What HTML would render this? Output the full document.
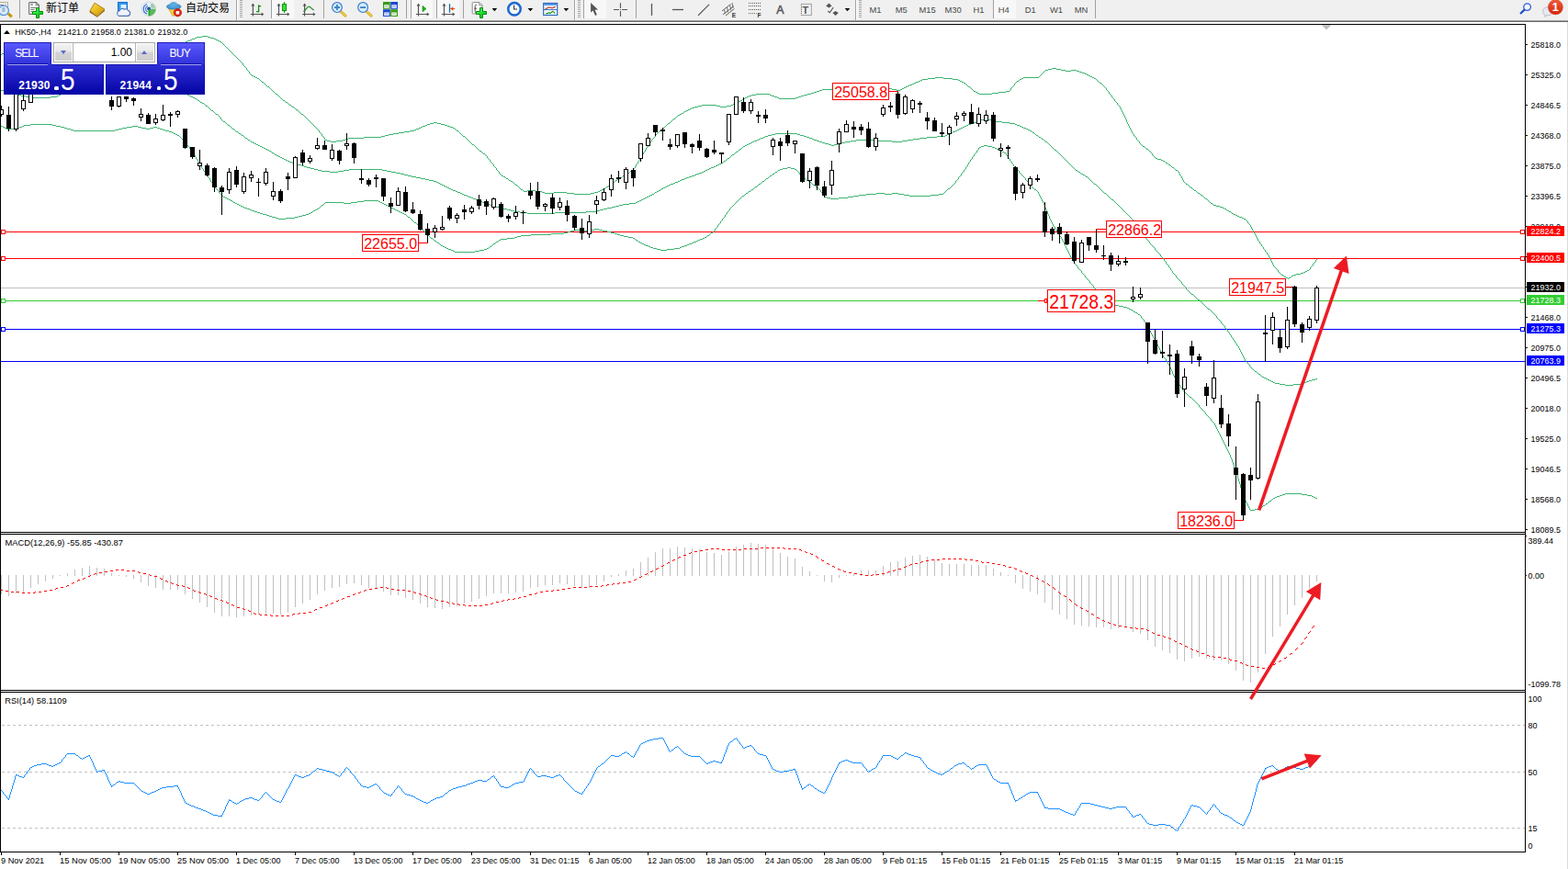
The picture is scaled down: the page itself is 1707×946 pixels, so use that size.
<!DOCTYPE html>
<html><head><meta charset="utf-8"><title>HK50 H4</title>
<style>
html,body{margin:0;padding:0;background:#fff;}
body{width:1707px;height:946px;overflow:hidden;position:relative;font-family:"Liberation Sans",sans-serif;}
#tb{position:absolute;left:0;top:0;width:1707px;height:22px;background:#f0f0f0;}
#tbl1{position:absolute;left:0;top:22px;width:1707px;height:1px;background:#a0a0a0;}
#tbl2{position:absolute;left:0;top:23px;width:1707px;height:1px;background:#696969;}
#rb{position:absolute;left:1706px;top:24px;width:1px;height:922px;background:#dadada;}
svg{position:absolute;left:0;top:0;}
#panel{position:absolute;left:0;top:0;}
.bt{position:absolute;color:#fff;}
</style></head><body>
<div id="tb"></div><div id="tbl1"></div><div id="tbl2"></div><div id="rb"></div>
<svg width="1707" height="946" viewBox="0 0 1707 946">
<g shape-rendering="crispEdges">
<rect x="1" y="313" width="1659" height="1" fill="#c0c0c0"/>
<rect x="1" y="252" width="1659" height="1" fill="#ff0000"/>
<rect x="1" y="281" width="1659" height="1" fill="#ff0000"/>
<rect x="1" y="327" width="1659" height="1" fill="#32cd32"/>
<rect x="1" y="358" width="1659" height="1" fill="#0000ff"/>
<rect x="1" y="393" width="1659" height="1" fill="#0000ff"/>
<rect x="1130" y="327" width="7" height="1" fill="#ff0000"/>
<path d="M220 39.5h6M214 40.5h6M226 40.5h3M212 41.5h2M229 41.5h4M209 42.5h3M233 42.5h2M207 43.5h2M235 43.5h2M204 44.5h3M237 44.5h2M202 45.5h2M239 45.5h2M200 46.5h2M241 46.5h1M194 47.5h6M242 47.5h1M185 48.5h9M243 48.5h1M165 49.5h20M244 49.5h1M135 50.5h30M245 50.5h1M110 51.5h25M246 51.5h1M90 52.5h20M247 52.5h1M70 53.5h20M248 53.5h1M50 54.5h20M249 54.5h1M34 55.5h16M250 55.5h1M22 56.5h12M251 56.5h1M10 57.5h12M252 57.5h1M2 58.5h8M253 58.5h1M0 59.5h2M254 59.5h1M255 60.5h1M256 61.5h1M257 62.5h1M258 63.5h1M259 64.5h1M260 65.5h1M261 66.5h1M262 67.5h1M263 68.5h1M264 69.5h1M264 70.5h1M265 71.5h1M266 72.5h1M267 73.5h1M268 74.5h1M268 75.5h1M269 76.5h1M270 77.5h1M271 78.5h1M271 79.5h1M272 80.5h1M273 81.5h1M274 82.5h2M276 83.5h2M278 84.5h2M280 85.5h2M282 86.5h1M283 87.5h1M284 88.5h1M285 89.5h2M287 90.5h1M288 91.5h1M289 92.5h1M290 93.5h1M291 94.5h2M293 95.5h1M294 96.5h1M295 97.5h1M895 97.5h12M296 98.5h1M892 98.5h3M297 99.5h1M889 99.5h3M298 100.5h1M886 100.5h3M299 101.5h1M883 101.5h3M300 102.5h2M823 102.5h15M879 102.5h4M302 103.5h1M818 103.5h5M838 103.5h2M875 103.5h4M303 104.5h1M815 104.5h3M840 104.5h3M872 104.5h3M304 105.5h1M813 105.5h2M843 105.5h3M869 105.5h3M305 106.5h1M811 106.5h2M846 106.5h2M866 106.5h3M306 107.5h1M810 107.5h1M848 107.5h18M307 108.5h1M808 108.5h2M308 109.5h2M806 109.5h2M310 110.5h1M804 110.5h2M311 111.5h2M802 111.5h2M313 112.5h1M800 112.5h2M314 113.5h1M798 113.5h2M315 114.5h2M764 114.5h16M796 114.5h2M317 115.5h1M760 115.5h4M780 115.5h4M791 115.5h5M318 116.5h2M756 116.5h4M784 116.5h7M320 117.5h1M753 117.5h3M321 118.5h1M751 118.5h2M322 119.5h2M749 119.5h2M324 120.5h1M747 120.5h2M325 121.5h1M745 121.5h2M326 122.5h1M744 122.5h1M327 123.5h1M742 123.5h2M328 124.5h2M740 124.5h2M330 125.5h1M738 125.5h2M331 126.5h1M737 126.5h1M332 127.5h1M736 127.5h1M333 128.5h1M735 128.5h1M334 129.5h1M733 129.5h2M335 130.5h1M732 130.5h1M336 131.5h1M731 131.5h1M337 132.5h1M730 132.5h1M338 133.5h1M472 133.5h4M729 133.5h1M339 134.5h1M468 134.5h4M476 134.5h4M727 134.5h2M340 135.5h1M465 135.5h3M480 135.5h4M726 135.5h1M341 136.5h1M463 136.5h2M484 136.5h3M725 136.5h1M342 137.5h1M460 137.5h3M487 137.5h3M724 137.5h1M343 138.5h1M458 138.5h2M490 138.5h3M723 138.5h1M344 139.5h1M456 139.5h2M493 139.5h2M722 139.5h1M345 140.5h1M453 140.5h3M495 140.5h1M721 140.5h1M346 141.5h1M451 141.5h2M496 141.5h1M719 141.5h2M347 142.5h1M446 142.5h5M497 142.5h2M718 142.5h1M347 143.5h1M440 143.5h6M499 143.5h1M717 143.5h1M348 144.5h1M434 144.5h6M500 144.5h1M716 144.5h1M349 145.5h1M428 145.5h6M501 145.5h1M715 145.5h1M350 146.5h1M423 146.5h5M502 146.5h1M714 146.5h1M350 147.5h1M419 147.5h4M503 147.5h1M713 147.5h1M351 148.5h1M415 148.5h4M504 148.5h2M713 148.5h1M352 149.5h1M396 149.5h19M506 149.5h1M712 149.5h1M353 150.5h1M379 150.5h17M507 150.5h1M711 150.5h1M353 151.5h1M376 151.5h3M508 151.5h1M710 151.5h1M354 152.5h2M373 152.5h3M509 152.5h1M709 152.5h1M356 153.5h4M366 153.5h7M510 153.5h1M709 153.5h1M360 154.5h6M511 154.5h1M708 154.5h1M512 155.5h1M707 155.5h1M513 156.5h1M706 156.5h1M514 157.5h2M706 157.5h1M516 158.5h1M705 158.5h1M517 159.5h1M705 159.5h1M518 160.5h1M704 160.5h1M519 161.5h1M703 161.5h1M520 162.5h1M703 162.5h1M521 163.5h1M702 163.5h1M522 164.5h2M702 164.5h1M524 165.5h1M701 165.5h1M525 166.5h1M700 166.5h1M526 167.5h2M700 167.5h1M528 168.5h1M699 168.5h1M529 169.5h1M699 169.5h1M530 170.5h1M698 170.5h1M530 171.5h1M697 171.5h1M531 172.5h1M697 172.5h1M532 173.5h1M696 173.5h1M533 174.5h1M696 174.5h1M533 175.5h1M695 175.5h1M534 176.5h1M694 176.5h1M535 177.5h1M694 177.5h1M536 178.5h1M693 178.5h1M537 179.5h1M692 179.5h1M537 180.5h1M692 180.5h1M538 181.5h1M691 181.5h1M539 182.5h1M691 182.5h1M540 183.5h1M690 183.5h1M540 184.5h1M689 184.5h1M541 185.5h1M688 185.5h1M542 186.5h1M686 186.5h2M543 187.5h1M685 187.5h1M543 188.5h1M683 188.5h2M544 189.5h1M682 189.5h1M545 190.5h1M680 190.5h2M546 191.5h2M678 191.5h2M548 192.5h2M677 192.5h1M550 193.5h1M675 193.5h2M551 194.5h2M674 194.5h1M553 195.5h1M672 195.5h2M554 196.5h2M670 196.5h2M556 197.5h2M669 197.5h1M558 198.5h1M667 198.5h2M559 199.5h1M666 199.5h1M560 200.5h1M664 200.5h2M561 201.5h2M663 201.5h1M563 202.5h1M662 202.5h1M564 203.5h1M660 203.5h2M565 204.5h1M659 204.5h1M566 205.5h1M657 205.5h2M567 206.5h2M655 206.5h2M569 207.5h1M574 207.5h9M653 207.5h2M570 208.5h4M583 208.5h7M651 208.5h2M590 209.5h3M603 209.5h14M647 209.5h4M593 210.5h10M617 210.5h8M643 210.5h4M625 211.5h18" fill="none" stroke="#3cb371" stroke-width="1"/>
<path d="M1145 74.5h5M1141 75.5h4M1150 75.5h5M1138 76.5h3M1155 76.5h5M1166 76.5h6M1137 77.5h1M1160 77.5h6M1172 77.5h3M1136 78.5h1M1175 78.5h3M1135 79.5h1M1178 79.5h3M1134 80.5h1M1181 80.5h2M1133 81.5h1M1183 81.5h2M1132 82.5h1M1185 82.5h2M1131 83.5h1M1187 83.5h2M1018 84.5h9M1114 84.5h17M1189 84.5h2M1010 85.5h8M1027 85.5h10M1112 85.5h2M1191 85.5h2M1004 86.5h6M1037 86.5h6M1110 86.5h2M1193 86.5h1M1002 87.5h2M1043 87.5h2M1109 87.5h1M1194 87.5h1M1000 88.5h2M1045 88.5h2M1107 88.5h2M1195 88.5h1M997 89.5h3M1047 89.5h2M1106 89.5h1M1196 89.5h1M995 90.5h2M1049 90.5h2M1105 90.5h1M1197 90.5h2M993 91.5h2M1051 91.5h1M1104 91.5h1M1199 91.5h1M990 92.5h3M1052 92.5h1M1104 92.5h1M1200 92.5h1M988 93.5h2M1053 93.5h1M1103 93.5h1M1201 93.5h1M986 94.5h2M1054 94.5h2M1102 94.5h1M1202 94.5h1M984 95.5h2M1056 95.5h1M1101 95.5h1M1203 95.5h1M968 96.5h3M982 96.5h2M1057 96.5h1M1100 96.5h1M1204 96.5h1M971 97.5h5M980 97.5h2M1058 97.5h1M1100 97.5h1M1204 97.5h1M976 98.5h4M1059 98.5h1M1099 98.5h1M1205 98.5h1M1060 99.5h2M1095 99.5h4M1206 99.5h1M1062 100.5h2M1087 100.5h8M1207 100.5h1M1064 101.5h2M1080 101.5h7M1207 101.5h1M1066 102.5h14M1208 102.5h1M1209 103.5h1M1210 104.5h1M1210 105.5h1M1211 106.5h1M1212 107.5h1M1213 108.5h1M1213 109.5h1M1214 110.5h1M1215 111.5h1M1216 112.5h1M1216 113.5h1M1217 114.5h1M1218 115.5h1M1219 116.5h1M1219 117.5h1M1220 118.5h1M1220 119.5h1M1221 120.5h1M1221 121.5h1M1222 122.5h1M1222 123.5h1M1223 124.5h1M1223 125.5h1M1224 126.5h1M1224 127.5h1M1225 128.5h1M1225 129.5h1M1226 130.5h1M1226 131.5h1M1226 132.5h1M1227 133.5h1M1227 134.5h1M1228 135.5h1M1228 136.5h1M1229 137.5h1M1229 138.5h1M1230 139.5h1M1230 140.5h1M1231 141.5h1M1231 142.5h1M1232 143.5h1M1232 144.5h1M1233 145.5h1M1234 146.5h1M1234 147.5h1M1235 148.5h1M1236 149.5h1M1237 150.5h1M1237 151.5h1M1238 152.5h1M1239 153.5h1M1240 154.5h1M1240 155.5h1M1241 156.5h1M1242 157.5h1M1243 158.5h1M1244 159.5h2M1246 160.5h1M1247 161.5h1M1248 162.5h2M1250 163.5h1M1251 164.5h1M1252 165.5h1M1253 166.5h1M1254 167.5h1M1254 168.5h1M1255 169.5h1M1256 170.5h1M1257 171.5h1M1258 172.5h2M1260 173.5h4M1264 174.5h2M1266 175.5h2M1268 176.5h1M1269 177.5h2M1271 178.5h1M1272 179.5h2M1274 180.5h1M1275 181.5h1M1276 182.5h2M1278 183.5h1M1279 184.5h1M1280 185.5h2M1282 186.5h1M1283 187.5h1M1283 188.5h1M1284 189.5h1M1284 190.5h1M1285 191.5h1M1286 192.5h1M1286 193.5h1M1287 194.5h1M1287 195.5h1M1288 196.5h1M1288 197.5h1M1289 198.5h1M1290 199.5h1M1291 200.5h2M1293 201.5h1M1294 202.5h1M1295 203.5h1M1296 204.5h2M1298 205.5h1M1299 206.5h1M1300 207.5h2M1302 208.5h1M1303 209.5h1M1304 210.5h2M1306 211.5h1M1307 212.5h2M1309 213.5h1M1310 214.5h1M1311 215.5h1M1312 216.5h2M1314 217.5h1M1315 218.5h1M1316 219.5h1M1317 220.5h1M1318 221.5h2M1320 222.5h1M1321 223.5h3M1324 224.5h4M1328 225.5h3M1331 226.5h2M1333 227.5h2M1335 228.5h1M1336 229.5h2M1338 230.5h2M1340 231.5h1M1341 232.5h2M1343 233.5h2M1345 234.5h2M1347 235.5h2M1349 236.5h3M1352 237.5h2M1354 238.5h2M1356 239.5h1M1357 240.5h1M1358 241.5h1M1358 242.5h1M1359 243.5h1M1360 244.5h1M1361 245.5h1M1361 246.5h1M1362 247.5h1M1362 248.5h1M1363 249.5h1M1363 250.5h1M1364 251.5h1M1364 252.5h1M1365 253.5h1M1366 254.5h1M1366 255.5h1M1367 256.5h1M1367 257.5h1M1368 258.5h1M1368 259.5h1M1369 260.5h1M1369 261.5h1M1370 262.5h1M1371 263.5h1M1371 264.5h1M1372 265.5h1M1373 266.5h1M1373 267.5h1M1374 268.5h1M1375 269.5h1M1375 270.5h1M1376 271.5h1M1377 272.5h1M1377 273.5h1M1378 274.5h1M1379 275.5h1M1379 276.5h1M1380 277.5h1M1381 278.5h1M1381 279.5h1M1382 280.5h1M1382 281.5h1M1383 282.5h1M1433 282.5h1M1383 283.5h1M1432 283.5h1M1384 284.5h1M1432 284.5h1M1384 285.5h1M1431 285.5h1M1385 286.5h1M1430 286.5h1M1385 287.5h1M1429 287.5h1M1386 288.5h1M1429 288.5h1M1386 289.5h1M1428 289.5h1M1387 290.5h1M1427 290.5h1M1388 291.5h1M1426 291.5h1M1389 292.5h1M1426 292.5h1M1390 293.5h1M1425 293.5h1M1391 294.5h1M1423 294.5h2M1391 295.5h1M1421 295.5h2M1392 296.5h1M1419 296.5h2M1393 297.5h1M1416 297.5h3M1394 298.5h1M1411 298.5h5M1395 299.5h2M1408 299.5h3M1397 300.5h1M1406 300.5h2M1398 301.5h2M1405 301.5h1M1400 302.5h2M1403 302.5h2M1402 303.5h1" fill="none" stroke="#3cb371" stroke-width="1"/>
<path d="M133 95.5h14M118 96.5h15M147 96.5h14M103 97.5h15M161 97.5h14M0 98.5h5M88 98.5h15M175 98.5h14M5 99.5h4M78 99.5h10M189 99.5h9M9 100.5h3M73 100.5h5M198 100.5h2M12 101.5h3M69 101.5h4M200 101.5h2M15 102.5h4M66 102.5h3M202 102.5h2M19 103.5h4M64 103.5h2M204 103.5h2M23 104.5h5M62 104.5h2M206 104.5h2M28 105.5h6M55 105.5h7M208 105.5h2M34 106.5h21M210 106.5h2M212 107.5h2M214 108.5h1M215 109.5h2M217 110.5h1M218 111.5h2M220 112.5h2M222 113.5h1M223 114.5h1M224 115.5h2M226 116.5h1M227 117.5h1M228 118.5h1M229 119.5h1M230 120.5h2M232 121.5h1M233 122.5h1M234 123.5h1M235 124.5h2M237 125.5h1M238 126.5h1M239 127.5h1M240 128.5h1M240 129.5h1M1071 129.5h4M241 130.5h1M1068 130.5h3M1075 130.5h4M242 131.5h1M1065 131.5h3M1079 131.5h5M243 132.5h2M1063 132.5h2M1084 132.5h7M245 133.5h1M1060 133.5h3M1091 133.5h8M246 134.5h1M1057 134.5h3M1099 134.5h6M247 135.5h1M1054 135.5h3M1105 135.5h2M248 136.5h2M1052 136.5h2M1107 136.5h3M250 137.5h1M1050 137.5h2M1110 137.5h2M251 138.5h1M1048 138.5h2M1112 138.5h2M252 139.5h1M1046 139.5h2M1114 139.5h3M253 140.5h2M1044 140.5h2M1117 140.5h2M255 141.5h1M1042 141.5h2M1119 141.5h2M256 142.5h1M1040 142.5h2M1121 142.5h2M257 143.5h2M1037 143.5h3M1123 143.5h1M259 144.5h1M1035 144.5h2M1124 144.5h2M260 145.5h2M844 145.5h24M1033 145.5h2M1126 145.5h1M262 146.5h1M840 146.5h4M868 146.5h3M1031 146.5h2M1127 146.5h1M263 147.5h2M836 147.5h4M871 147.5h4M1029 147.5h2M1128 147.5h2M265 148.5h1M833 148.5h3M875 148.5h3M1020 148.5h9M1130 148.5h1M266 149.5h1M831 149.5h2M878 149.5h3M1009 149.5h11M1131 149.5h2M267 150.5h2M828 150.5h3M881 150.5h3M1001 150.5h8M1133 150.5h1M269 151.5h1M826 151.5h2M884 151.5h2M994 151.5h7M1134 151.5h2M270 152.5h2M824 152.5h2M886 152.5h3M932 152.5h22M988 152.5h6M1136 152.5h1M272 153.5h1M821 153.5h3M889 153.5h3M926 153.5h6M954 153.5h17M982 153.5h6M1137 153.5h1M273 154.5h2M819 154.5h2M892 154.5h3M920 154.5h6M971 154.5h11M1138 154.5h2M275 155.5h2M817 155.5h2M895 155.5h3M916 155.5h4M1140 155.5h1M277 156.5h2M815 156.5h2M898 156.5h4M912 156.5h4M1141 156.5h1M279 157.5h2M813 157.5h2M902 157.5h3M908 157.5h4M1142 157.5h1M281 158.5h2M811 158.5h2M905 158.5h3M1143 158.5h1M283 159.5h2M809 159.5h2M1144 159.5h1M285 160.5h2M808 160.5h1M1145 160.5h1M287 161.5h2M807 161.5h1M1146 161.5h1M289 162.5h2M805 162.5h2M1147 162.5h1M291 163.5h2M804 163.5h1M1148 163.5h2M293 164.5h2M803 164.5h1M1150 164.5h1M295 165.5h1M801 165.5h2M1151 165.5h1M296 166.5h2M800 166.5h1M1152 166.5h1M298 167.5h1M799 167.5h1M1153 167.5h1M299 168.5h2M797 168.5h2M1154 168.5h1M301 169.5h2M796 169.5h1M1155 169.5h1M303 170.5h2M795 170.5h1M1156 170.5h1M305 171.5h2M794 171.5h1M1157 171.5h1M307 172.5h2M792 172.5h2M1158 172.5h1M309 173.5h2M791 173.5h1M1159 173.5h1M311 174.5h2M790 174.5h1M1160 174.5h1M313 175.5h2M788 175.5h2M1161 175.5h1M315 176.5h3M787 176.5h1M1162 176.5h1M318 177.5h3M785 177.5h2M1163 177.5h1M321 178.5h3M783 178.5h2M1164 178.5h1M324 179.5h4M781 179.5h2M1165 179.5h1M328 180.5h3M779 180.5h2M1166 180.5h1M331 181.5h3M777 181.5h2M1167 181.5h1M334 182.5h4M774 182.5h3M1168 182.5h1M338 183.5h4M772 183.5h2M1169 183.5h1M342 184.5h4M380 184.5h36M770 184.5h2M1170 184.5h1M346 185.5h4M374 185.5h6M416 185.5h5M768 185.5h2M1171 185.5h2M350 186.5h9M368 186.5h6M421 186.5h5M766 186.5h2M1173 186.5h1M359 187.5h9M426 187.5h5M764 187.5h2M1174 187.5h2M431 188.5h5M761 188.5h3M1176 188.5h1M436 189.5h4M758 189.5h3M1177 189.5h2M440 190.5h4M756 190.5h2M1179 190.5h2M444 191.5h4M753 191.5h3M1181 191.5h1M448 192.5h5M750 192.5h3M1182 192.5h2M453 193.5h5M747 193.5h3M1184 193.5h1M458 194.5h5M745 194.5h2M1185 194.5h1M463 195.5h4M742 195.5h3M1186 195.5h1M467 196.5h5M740 196.5h2M1187 196.5h1M472 197.5h3M738 197.5h2M1188 197.5h1M475 198.5h2M735 198.5h3M1189 198.5h1M477 199.5h2M733 199.5h2M1190 199.5h1M479 200.5h2M730 200.5h3M1191 200.5h2M481 201.5h2M728 201.5h2M1193 201.5h1M483 202.5h2M726 202.5h2M1194 202.5h1M485 203.5h2M724 203.5h2M1195 203.5h1M487 204.5h2M722 204.5h2M1196 204.5h1M489 205.5h2M720 205.5h2M1197 205.5h1M491 206.5h2M719 206.5h1M1198 206.5h1M493 207.5h3M717 207.5h2M1199 207.5h1M496 208.5h2M715 208.5h2M1200 208.5h1M498 209.5h3M713 209.5h2M1201 209.5h1M501 210.5h2M712 210.5h1M1202 210.5h2M503 211.5h2M710 211.5h2M1204 211.5h1M505 212.5h3M708 212.5h2M1205 212.5h1M508 213.5h2M706 213.5h2M1206 213.5h1M510 214.5h3M704 214.5h2M1207 214.5h1M513 215.5h2M702 215.5h2M1208 215.5h1M515 216.5h3M700 216.5h2M1209 216.5h1M518 217.5h2M698 217.5h2M1210 217.5h2M520 218.5h2M696 218.5h2M1212 218.5h1M522 219.5h3M694 219.5h2M1213 219.5h1M525 220.5h2M692 220.5h2M1214 220.5h1M527 221.5h3M685 221.5h7M1215 221.5h1M530 222.5h4M678 222.5h7M1216 222.5h1M534 223.5h3M674 223.5h4M1217 223.5h1M537 224.5h3M670 224.5h4M1218 224.5h1M540 225.5h4M666 225.5h4M1219 225.5h1M544 226.5h4M661 226.5h5M1220 226.5h1M548 227.5h4M657 227.5h4M1221 227.5h1M552 228.5h4M653 228.5h4M1222 228.5h1M556 229.5h4M649 229.5h4M1223 229.5h1M560 230.5h6M638 230.5h11M1224 230.5h1M566 231.5h8M604 231.5h34M1225 231.5h1M574 232.5h30M1226 232.5h1M1227 233.5h1M1228 234.5h1M1229 235.5h1M1230 236.5h1M1231 237.5h1M1232 238.5h1M1233 239.5h1M1233 240.5h1M1234 241.5h1M1235 242.5h1M1236 243.5h1M1236 244.5h1M1237 245.5h1M1238 246.5h1M1239 247.5h1M1239 248.5h1M1240 249.5h1M1241 250.5h1M1241 251.5h1M1242 252.5h1M1243 253.5h1M1244 254.5h1M1244 255.5h1M1245 256.5h1M1246 257.5h1M1247 258.5h1M1247 259.5h1M1248 260.5h1M1249 261.5h1M1250 262.5h1M1251 263.5h1M1251 264.5h1M1252 265.5h1M1253 266.5h1M1254 267.5h1M1255 268.5h1M1256 269.5h1M1257 270.5h1M1257 271.5h1M1258 272.5h1M1259 273.5h1M1260 274.5h1M1261 275.5h1M1262 276.5h1M1263 277.5h1M1263 278.5h1M1264 279.5h1M1265 280.5h1M1266 281.5h1M1267 282.5h1M1267 283.5h1M1268 284.5h1M1269 285.5h1M1269 286.5h1M1270 287.5h1M1271 288.5h1M1272 289.5h1M1272 290.5h1M1273 291.5h1M1274 292.5h1M1274 293.5h1M1275 294.5h1M1276 295.5h1M1276 296.5h1M1277 297.5h1M1278 298.5h1M1279 299.5h1M1280 300.5h1M1280 301.5h1M1281 302.5h1M1282 303.5h1M1283 304.5h1M1284 305.5h1M1285 306.5h1M1286 307.5h1M1286 308.5h1M1287 309.5h1M1288 310.5h1M1289 311.5h1M1290 312.5h1M1291 313.5h1M1291 314.5h1M1292 315.5h1M1293 316.5h1M1294 317.5h1M1295 318.5h1M1296 319.5h1M1297 320.5h2M1299 321.5h1M1300 322.5h1M1301 323.5h1M1302 324.5h1M1303 325.5h1M1304 326.5h2M1306 327.5h1M1307 328.5h1M1308 329.5h1M1309 330.5h1M1310 331.5h1M1311 332.5h1M1312 333.5h1M1313 334.5h1M1314 335.5h1M1315 336.5h2M1317 337.5h1M1318 338.5h1M1319 339.5h1M1320 340.5h1M1321 341.5h1M1322 342.5h1M1323 343.5h1M1324 344.5h1M1324 345.5h1M1325 346.5h1M1326 347.5h1M1327 348.5h1M1328 349.5h1M1329 350.5h1M1329 351.5h1M1330 352.5h1M1331 353.5h1M1332 354.5h1M1333 355.5h1M1333 356.5h1M1334 357.5h1M1335 358.5h1M1336 359.5h1M1336 360.5h1M1337 361.5h1M1338 362.5h1M1338 363.5h1M1339 364.5h1M1340 365.5h1M1340 366.5h1M1341 367.5h1M1342 368.5h1M1342 369.5h1M1343 370.5h1M1344 371.5h1M1344 372.5h1M1345 373.5h1M1346 374.5h1M1346 375.5h1M1347 376.5h1M1348 377.5h1M1348 378.5h1M1349 379.5h1M1349 380.5h1M1350 381.5h1M1350 382.5h1M1351 383.5h1M1351 384.5h1M1352 385.5h1M1352 386.5h1M1353 387.5h1M1353 388.5h1M1354 389.5h1M1354 390.5h1M1355 391.5h1M1355 392.5h1M1356 393.5h1M1357 394.5h1M1358 395.5h1M1359 396.5h1M1360 397.5h1M1360 398.5h1M1361 399.5h1M1362 400.5h1M1363 401.5h1M1364 402.5h1M1365 403.5h1M1366 404.5h2M1368 405.5h1M1369 406.5h1M1370 407.5h2M1372 408.5h1M1373 409.5h1M1374 410.5h2M1376 411.5h2M1378 412.5h2M1432 412.5h2M1380 413.5h2M1428 413.5h4M1382 414.5h2M1425 414.5h3M1384 415.5h2M1422 415.5h3M1386 416.5h2M1419 416.5h3M1388 417.5h5M1416 417.5h3M1393 418.5h6M1408 418.5h8M1399 419.5h9" fill="none" stroke="#3cb371" stroke-width="1"/>
<path d="M33 135.5h24M0 136.5h1M26 136.5h7M57 136.5h4M1 137.5h2M24 137.5h2M61 137.5h5M144 137.5h6M3 138.5h2M21 138.5h3M66 138.5h4M138 138.5h6M150 138.5h4M167 138.5h4M5 139.5h2M19 139.5h2M70 139.5h3M133 139.5h5M154 139.5h5M163 139.5h4M171 139.5h3M7 140.5h12M73 140.5h4M129 140.5h4M159 140.5h4M174 140.5h3M77 141.5h3M125 141.5h4M177 141.5h3M80 142.5h45M180 142.5h4M184 143.5h3M187 144.5h2M189 145.5h2M191 146.5h2M193 147.5h2M195 148.5h1M196 149.5h1M197 150.5h1M198 151.5h1M199 152.5h1M200 153.5h1M201 154.5h1M202 155.5h1M203 156.5h1M203 157.5h1M204 158.5h1M1071 158.5h4M205 159.5h1M1068 159.5h3M1075 159.5h5M206 160.5h1M1066 160.5h2M1080 160.5h3M206 161.5h1M1065 161.5h1M1083 161.5h2M207 162.5h1M1065 162.5h1M1085 162.5h2M208 163.5h1M1064 163.5h1M1087 163.5h2M209 164.5h1M1063 164.5h1M1089 164.5h2M209 165.5h1M1063 165.5h1M1091 165.5h2M210 166.5h1M1062 166.5h1M1093 166.5h2M211 167.5h1M1061 167.5h1M1095 167.5h1M211 168.5h1M1060 168.5h1M1095 168.5h1M212 169.5h1M1060 169.5h1M1096 169.5h1M212 170.5h1M1059 170.5h1M1097 170.5h1M213 171.5h1M1058 171.5h1M1097 171.5h1M213 172.5h1M1058 172.5h1M1098 172.5h1M214 173.5h1M1057 173.5h1M1099 173.5h1M215 174.5h1M1056 174.5h1M1099 174.5h1M215 175.5h1M1056 175.5h1M1100 175.5h1M216 176.5h1M1055 176.5h1M1101 176.5h1M216 177.5h1M1054 177.5h1M1101 177.5h1M217 178.5h1M1054 178.5h1M1102 178.5h1M217 179.5h1M1053 179.5h1M1103 179.5h1M218 180.5h1M1053 180.5h1M1103 180.5h1M219 181.5h1M1052 181.5h1M1104 181.5h1M219 182.5h1M857 182.5h4M1051 182.5h1M1105 182.5h1M220 183.5h1M852 183.5h5M861 183.5h4M1051 183.5h1M1106 183.5h1M221 184.5h1M849 184.5h3M865 184.5h2M1050 184.5h1M1107 184.5h1M221 185.5h1M847 185.5h2M867 185.5h1M1049 185.5h1M1108 185.5h1M222 186.5h1M846 186.5h1M868 186.5h1M1049 186.5h1M1109 186.5h1M223 187.5h1M844 187.5h2M869 187.5h1M1048 187.5h1M1109 187.5h1M224 188.5h1M843 188.5h1M870 188.5h1M1047 188.5h1M1110 188.5h1M224 189.5h1M841 189.5h2M870 189.5h1M1046 189.5h1M1111 189.5h1M225 190.5h1M840 190.5h1M871 190.5h1M1046 190.5h1M1112 190.5h1M226 191.5h1M838 191.5h2M872 191.5h1M1045 191.5h1M1113 191.5h1M226 192.5h1M837 192.5h1M873 192.5h1M1044 192.5h1M1114 192.5h1M227 193.5h1M836 193.5h1M874 193.5h2M1043 193.5h1M1115 193.5h1M228 194.5h1M834 194.5h2M876 194.5h1M1043 194.5h1M1116 194.5h1M228 195.5h1M833 195.5h1M877 195.5h1M1042 195.5h1M1116 195.5h1M229 196.5h1M832 196.5h1M878 196.5h2M1041 196.5h1M1117 196.5h1M229 197.5h1M830 197.5h2M880 197.5h1M1040 197.5h1M1118 197.5h1M230 198.5h1M829 198.5h1M881 198.5h2M1040 198.5h1M1119 198.5h1M231 199.5h1M828 199.5h1M883 199.5h1M1039 199.5h1M1120 199.5h1M231 200.5h1M826 200.5h2M884 200.5h1M1038 200.5h1M1121 200.5h1M232 201.5h1M825 201.5h1M885 201.5h2M1037 201.5h1M1121 201.5h1M232 202.5h1M824 202.5h1M887 202.5h1M1036 202.5h1M1122 202.5h1M233 203.5h1M822 203.5h2M888 203.5h1M1035 203.5h1M1123 203.5h1M234 204.5h1M821 204.5h1M889 204.5h2M1034 204.5h1M1124 204.5h1M235 205.5h1M820 205.5h1M891 205.5h1M1032 205.5h2M1125 205.5h1M236 206.5h1M818 206.5h2M892 206.5h1M1031 206.5h1M1126 206.5h2M237 207.5h1M817 207.5h1M893 207.5h1M1030 207.5h1M1128 207.5h1M238 208.5h1M815 208.5h2M893 208.5h1M1029 208.5h1M1129 208.5h1M238 209.5h1M814 209.5h1M894 209.5h1M1028 209.5h1M1130 209.5h1M239 210.5h1M812 210.5h2M895 210.5h1M954 210.5h9M971 210.5h7M1027 210.5h1M1130 210.5h1M240 211.5h1M811 211.5h1M896 211.5h1M943 211.5h11M963 211.5h8M978 211.5h6M1022 211.5h5M1131 211.5h1M241 212.5h1M810 212.5h1M896 212.5h1M935 212.5h8M984 212.5h6M1013 212.5h9M1131 212.5h1M242 213.5h1M808 213.5h2M897 213.5h1M929 213.5h6M990 213.5h23M1132 213.5h1M243 214.5h2M807 214.5h1M898 214.5h2M923 214.5h6M1132 214.5h1M245 215.5h2M806 215.5h1M900 215.5h4M913 215.5h10M1133 215.5h1M247 216.5h2M805 216.5h1M904 216.5h9M1133 216.5h1M249 217.5h2M804 217.5h1M1134 217.5h1M251 218.5h2M396 218.5h16M803 218.5h1M1134 218.5h1M253 219.5h1M389 219.5h7M412 219.5h2M802 219.5h1M1135 219.5h1M254 220.5h2M354 220.5h20M382 220.5h7M414 220.5h2M801 220.5h1M1135 220.5h1M256 221.5h2M353 221.5h1M374 221.5h8M416 221.5h2M800 221.5h1M1136 221.5h1M258 222.5h2M352 222.5h1M418 222.5h2M799 222.5h1M1136 222.5h1M260 223.5h2M350 223.5h2M420 223.5h2M798 223.5h1M1137 223.5h1M262 224.5h2M349 224.5h1M422 224.5h2M797 224.5h1M1137 224.5h1M264 225.5h2M348 225.5h1M424 225.5h2M796 225.5h1M1137 225.5h1M266 226.5h3M347 226.5h1M426 226.5h2M795 226.5h1M1138 226.5h1M269 227.5h3M345 227.5h2M428 227.5h2M794 227.5h1M1138 227.5h1M272 228.5h2M343 228.5h2M430 228.5h2M794 228.5h1M1139 228.5h1M274 229.5h3M341 229.5h2M432 229.5h2M793 229.5h1M1139 229.5h1M277 230.5h3M340 230.5h1M434 230.5h2M792 230.5h1M1140 230.5h1M280 231.5h3M338 231.5h2M436 231.5h2M791 231.5h1M1140 231.5h1M283 232.5h3M336 232.5h2M438 232.5h2M791 232.5h1M1140 232.5h1M286 233.5h4M333 233.5h3M440 233.5h2M790 233.5h1M1141 233.5h1M290 234.5h3M329 234.5h4M442 234.5h1M789 234.5h1M1141 234.5h1M293 235.5h3M325 235.5h4M443 235.5h1M789 235.5h1M1142 235.5h1M296 236.5h4M321 236.5h4M444 236.5h2M788 236.5h1M1142 236.5h1M300 237.5h3M311 237.5h10M446 237.5h1M787 237.5h1M1142 237.5h1M303 238.5h8M447 238.5h1M786 238.5h1M1143 238.5h1M448 239.5h1M786 239.5h1M1143 239.5h1M449 240.5h1M785 240.5h1M1144 240.5h1M450 241.5h1M784 241.5h1M1144 241.5h1M451 242.5h2M784 242.5h1M1145 242.5h1M453 243.5h1M783 243.5h1M1145 243.5h1M454 244.5h1M782 244.5h1M1146 244.5h1M455 245.5h1M781 245.5h1M1146 245.5h1M456 246.5h1M781 246.5h1M1147 246.5h1M457 247.5h1M780 247.5h1M1148 247.5h1M458 248.5h1M779 248.5h1M1148 248.5h1M459 249.5h1M647 249.5h5M778 249.5h1M1149 249.5h1M460 250.5h1M625 250.5h7M641 250.5h6M652 250.5h4M778 250.5h1M1150 250.5h1M461 251.5h1M621 251.5h4M632 251.5h9M656 251.5h5M777 251.5h1M1150 251.5h1M462 252.5h1M618 252.5h3M661 252.5h4M776 252.5h1M1151 252.5h1M463 253.5h1M614 253.5h4M665 253.5h4M774 253.5h2M1151 253.5h1M464 254.5h1M600 254.5h14M669 254.5h3M773 254.5h1M1152 254.5h1M465 255.5h1M578 255.5h22M672 255.5h3M772 255.5h1M1153 255.5h1M466 256.5h1M567 256.5h11M675 256.5h4M770 256.5h2M1153 256.5h1M467 257.5h1M563 257.5h4M679 257.5h5M769 257.5h1M1154 257.5h1M468 258.5h1M560 258.5h3M684 258.5h5M767 258.5h2M1155 258.5h1M469 259.5h2M552 259.5h8M689 259.5h2M765 259.5h2M1155 259.5h1M471 260.5h1M545 260.5h7M691 260.5h1M762 260.5h3M1156 260.5h1M472 261.5h1M543 261.5h2M692 261.5h2M760 261.5h2M1156 261.5h1M473 262.5h2M542 262.5h1M694 262.5h1M758 262.5h2M1157 262.5h1M475 263.5h1M540 263.5h2M695 263.5h2M755 263.5h3M1157 263.5h1M476 264.5h2M539 264.5h1M697 264.5h2M753 264.5h2M1158 264.5h1M478 265.5h1M537 265.5h2M699 265.5h2M750 265.5h3M1158 265.5h1M479 266.5h1M536 266.5h1M701 266.5h2M748 266.5h2M1159 266.5h1M480 267.5h2M535 267.5h1M703 267.5h3M745 267.5h3M1159 267.5h1M482 268.5h2M533 268.5h2M706 268.5h2M742 268.5h3M1160 268.5h1M484 269.5h2M532 269.5h1M708 269.5h3M740 269.5h2M1160 269.5h1M486 270.5h2M530 270.5h2M711 270.5h4M734 270.5h6M1161 270.5h1M488 271.5h3M527 271.5h3M715 271.5h4M726 271.5h8M1161 271.5h1M491 272.5h2M522 272.5h5M719 272.5h7M1162 272.5h1M493 273.5h2M517 273.5h5M1162 273.5h1M495 274.5h22M1163 274.5h1M1163 275.5h1M1164 276.5h1M1164 277.5h1M1165 278.5h1M1165 279.5h1M1166 280.5h1M1166 281.5h1M1167 282.5h1M1167 283.5h1M1168 284.5h1M1169 285.5h1M1169 286.5h1M1170 287.5h1M1171 288.5h1M1172 289.5h1M1173 290.5h1M1173 291.5h1M1174 292.5h1M1175 293.5h1M1176 294.5h1M1177 295.5h1M1177 296.5h1M1178 297.5h1M1179 298.5h1M1180 299.5h1M1181 300.5h1M1181 301.5h1M1182 302.5h1M1183 303.5h1M1184 304.5h1M1185 305.5h1M1186 306.5h1M1186 307.5h1M1187 308.5h1M1188 309.5h1M1189 310.5h1M1190 311.5h1M1190 312.5h1M1191 313.5h1M1192 314.5h1M1193 315.5h1M1194 316.5h1M1195 317.5h1M1196 318.5h1M1197 319.5h1M1198 320.5h1M1198 321.5h1M1199 322.5h1M1200 323.5h1M1201 324.5h1M1202 325.5h1M1203 326.5h1M1204 327.5h2M1206 328.5h2M1208 329.5h2M1210 330.5h2M1212 331.5h2M1214 332.5h4M1218 333.5h5M1223 334.5h4M1227 335.5h2M1229 336.5h2M1231 337.5h2M1233 338.5h1M1234 339.5h2M1236 340.5h2M1238 341.5h1M1239 342.5h2M1241 343.5h1M1242 344.5h1M1242 345.5h1M1243 346.5h1M1244 347.5h1M1245 348.5h1M1245 349.5h1M1246 350.5h1M1247 351.5h1M1247 352.5h1M1248 353.5h1M1249 354.5h1M1249 355.5h1M1250 356.5h1M1250 357.5h1M1251 358.5h1M1251 359.5h1M1252 360.5h1M1252 361.5h1M1253 362.5h1M1253 363.5h1M1254 364.5h1M1254 365.5h1M1255 366.5h1M1255 367.5h1M1256 368.5h1M1257 369.5h1M1257 370.5h1M1258 371.5h1M1258 372.5h1M1259 373.5h1M1259 374.5h1M1260 375.5h1M1260 376.5h1M1261 377.5h1M1261 378.5h1M1262 379.5h1M1262 380.5h1M1263 381.5h1M1263 382.5h1M1264 383.5h1M1264 384.5h1M1265 385.5h1M1265 386.5h1M1266 387.5h1M1266 388.5h1M1267 389.5h1M1268 390.5h1M1269 391.5h1M1269 392.5h1M1270 393.5h1M1271 394.5h1M1271 395.5h1M1272 396.5h1M1272 397.5h1M1273 398.5h1M1273 399.5h1M1274 400.5h1M1274 401.5h1M1275 402.5h1M1275 403.5h1M1276 404.5h1M1276 405.5h1M1276 406.5h1M1277 407.5h1M1277 408.5h1M1278 409.5h1M1278 410.5h1M1279 411.5h1M1279 412.5h1M1280 413.5h1M1280 414.5h1M1281 415.5h1M1282 416.5h1M1282 417.5h1M1283 418.5h1M1284 419.5h1M1285 420.5h1M1285 421.5h1M1286 422.5h1M1287 423.5h1M1287 424.5h1M1288 425.5h1M1289 426.5h1M1290 427.5h1M1291 428.5h1M1292 429.5h1M1293 430.5h1M1294 431.5h1M1295 432.5h2M1297 433.5h1M1298 434.5h1M1299 435.5h1M1300 436.5h1M1301 437.5h1M1302 438.5h1M1303 439.5h1M1304 440.5h1M1305 441.5h1M1305 442.5h1M1306 443.5h1M1307 444.5h1M1308 445.5h1M1309 446.5h1M1310 447.5h1M1311 448.5h1M1312 449.5h1M1312 450.5h1M1313 451.5h1M1314 452.5h1M1315 453.5h1M1316 454.5h1M1317 455.5h1M1318 456.5h1M1318 457.5h1M1319 458.5h1M1320 459.5h1M1321 460.5h1M1322 461.5h1M1322 462.5h1M1323 463.5h1M1323 464.5h1M1324 465.5h1M1324 466.5h1M1325 467.5h1M1325 468.5h1M1326 469.5h1M1326 470.5h1M1327 471.5h1M1327 472.5h1M1328 473.5h1M1328 474.5h1M1329 475.5h1M1329 476.5h1M1330 477.5h1M1330 478.5h1M1331 479.5h1M1331 480.5h1M1332 481.5h1M1332 482.5h1M1333 483.5h1M1333 484.5h1M1334 485.5h1M1334 486.5h1M1335 487.5h1M1335 488.5h1M1336 489.5h1M1336 490.5h1M1337 491.5h1M1337 492.5h1M1338 493.5h1M1338 494.5h1M1339 495.5h1M1339 496.5h1M1339 497.5h1M1340 498.5h1M1340 499.5h1M1341 500.5h1M1341 501.5h1M1341 502.5h1M1342 503.5h1M1342 504.5h1M1342 505.5h1M1343 506.5h1M1343 507.5h1M1343 508.5h1M1344 509.5h1M1344 510.5h1M1345 511.5h1M1345 512.5h1M1345 513.5h1M1346 514.5h1M1346 515.5h1M1346 516.5h1M1347 517.5h1M1347 518.5h1M1347 519.5h1M1347 520.5h1M1348 521.5h1M1348 522.5h1M1348 523.5h1M1349 524.5h1M1349 525.5h1M1349 526.5h1M1350 527.5h1M1350 528.5h1M1350 529.5h1M1350 530.5h1M1351 531.5h1M1351 532.5h1M1351 533.5h1M1352 534.5h1M1352 535.5h1M1352 536.5h1M1353 537.5h1M1399 537.5h18M1353 538.5h1M1396 538.5h3M1417 538.5h6M1354 539.5h1M1393 539.5h3M1423 539.5h5M1354 540.5h1M1390 540.5h3M1428 540.5h2M1354 541.5h1M1388 541.5h2M1430 541.5h2M1355 542.5h1M1386 542.5h2M1432 542.5h2M1355 543.5h1M1385 543.5h1M1355 544.5h1M1384 544.5h1M1356 545.5h1M1382 545.5h2M1356 546.5h1M1381 546.5h1M1357 547.5h1M1380 547.5h1M1357 548.5h1M1378 548.5h2M1358 549.5h1M1377 549.5h1M1358 550.5h1M1375 550.5h2M1359 551.5h1M1374 551.5h1M1359 552.5h1M1373 552.5h1M1360 553.5h1M1371 553.5h2M1360 554.5h1M1366 554.5h5M1361 555.5h5" fill="none" stroke="#3cb371" stroke-width="1"/>
<rect x="1" y="115" width="1" height="12" fill="#000"/>
<rect x="-1" y="119" width="5" height="6" fill="#000"/>
<rect x="0" y="120" width="3" height="4" fill="#fff"/>
<rect x="9" y="116" width="1" height="27" fill="#000"/>
<rect x="7" y="125" width="5" height="15" fill="#000"/>
<rect x="17" y="90" width="1" height="53" fill="#000"/>
<rect x="15" y="94" width="5" height="47" fill="#000"/>
<rect x="16" y="95" width="3" height="45" fill="#fff"/>
<rect x="25" y="100" width="1" height="21" fill="#000"/>
<rect x="23" y="109" width="5" height="10" fill="#000"/>
<rect x="24" y="110" width="3" height="8" fill="#fff"/>
<rect x="33" y="95" width="1" height="17" fill="#000"/>
<rect x="31" y="97" width="5" height="15" fill="#000"/>
<rect x="32" y="98" width="3" height="13" fill="#fff"/>
<rect x="121" y="105" width="1" height="15" fill="#000"/>
<rect x="119" y="109" width="5" height="7" fill="#000"/>
<rect x="129" y="105" width="1" height="12" fill="#000"/>
<rect x="127" y="105" width="5" height="11" fill="#000"/>
<rect x="128" y="106" width="3" height="9" fill="#fff"/>
<rect x="137" y="105" width="1" height="6" fill="#000"/>
<rect x="135" y="105" width="5" height="3" fill="#000"/>
<rect x="145" y="106" width="1" height="9" fill="#000"/>
<rect x="143" y="107" width="5" height="3" fill="#000"/>
<rect x="153" y="118" width="1" height="14" fill="#000"/>
<rect x="151" y="124" width="5" height="4" fill="#000"/>
<rect x="152" y="125" width="3" height="2" fill="#fff"/>
<rect x="161" y="123" width="1" height="12" fill="#000"/>
<rect x="159" y="125" width="5" height="10" fill="#000"/>
<rect x="169" y="124" width="1" height="12" fill="#000"/>
<rect x="167" y="129" width="5" height="5" fill="#000"/>
<rect x="168" y="130" width="3" height="3" fill="#fff"/>
<rect x="177" y="114" width="1" height="18" fill="#000"/>
<rect x="175" y="125" width="5" height="6" fill="#000"/>
<rect x="176" y="126" width="3" height="4" fill="#fff"/>
<rect x="185" y="122" width="1" height="16" fill="#000"/>
<rect x="183" y="124" width="5" height="2" fill="#000"/>
<rect x="193" y="120" width="1" height="8" fill="#000"/>
<rect x="191" y="121" width="5" height="4" fill="#000"/>
<rect x="192" y="122" width="3" height="2" fill="#fff"/>
<rect x="201" y="140" width="1" height="22" fill="#000"/>
<rect x="199" y="140" width="5" height="21" fill="#000"/>
<rect x="209" y="160" width="1" height="13" fill="#000"/>
<rect x="207" y="160" width="5" height="11" fill="#000"/>
<rect x="217" y="163" width="1" height="22" fill="#000"/>
<rect x="215" y="177" width="5" height="4" fill="#000"/>
<rect x="216" y="178" width="3" height="2" fill="#fff"/>
<rect x="225" y="178" width="1" height="14" fill="#000"/>
<rect x="223" y="180" width="5" height="11" fill="#000"/>
<rect x="233" y="182" width="1" height="27" fill="#000"/>
<rect x="231" y="183" width="5" height="21" fill="#000"/>
<rect x="241" y="202" width="1" height="32" fill="#000"/>
<rect x="239" y="204" width="5" height="5" fill="#000"/>
<rect x="249" y="183" width="1" height="28" fill="#000"/>
<rect x="247" y="187" width="5" height="20" fill="#000"/>
<rect x="248" y="188" width="3" height="18" fill="#fff"/>
<rect x="257" y="181" width="1" height="23" fill="#000"/>
<rect x="255" y="185" width="5" height="16" fill="#000"/>
<rect x="265" y="188" width="1" height="23" fill="#000"/>
<rect x="263" y="192" width="5" height="17" fill="#000"/>
<rect x="264" y="193" width="3" height="15" fill="#fff"/>
<rect x="273" y="186" width="1" height="12" fill="#000"/>
<rect x="271" y="190" width="5" height="4" fill="#000"/>
<rect x="272" y="191" width="3" height="2" fill="#fff"/>
<rect x="281" y="194" width="1" height="20" fill="#000"/>
<rect x="279" y="198" width="5" height="1" fill="#000"/>
<rect x="289" y="183" width="1" height="19" fill="#000"/>
<rect x="287" y="187" width="5" height="13" fill="#000"/>
<rect x="288" y="188" width="3" height="11" fill="#fff"/>
<rect x="297" y="198" width="1" height="20" fill="#000"/>
<rect x="295" y="208" width="5" height="6" fill="#000"/>
<rect x="296" y="209" width="3" height="4" fill="#fff"/>
<rect x="305" y="206" width="1" height="15" fill="#000"/>
<rect x="303" y="208" width="5" height="11" fill="#000"/>
<rect x="313" y="188" width="1" height="19" fill="#000"/>
<rect x="311" y="192" width="5" height="3" fill="#000"/>
<rect x="321" y="170" width="1" height="24" fill="#000"/>
<rect x="319" y="171" width="5" height="23" fill="#000"/>
<rect x="320" y="172" width="3" height="21" fill="#fff"/>
<rect x="329" y="163" width="1" height="17" fill="#000"/>
<rect x="327" y="166" width="5" height="11" fill="#000"/>
<rect x="337" y="169" width="1" height="9" fill="#000"/>
<rect x="335" y="172" width="5" height="4" fill="#000"/>
<rect x="336" y="173" width="3" height="2" fill="#fff"/>
<rect x="345" y="150" width="1" height="13" fill="#000"/>
<rect x="343" y="158" width="5" height="4" fill="#000"/>
<rect x="344" y="159" width="3" height="2" fill="#fff"/>
<rect x="353" y="153" width="1" height="10" fill="#000"/>
<rect x="351" y="158" width="5" height="5" fill="#000"/>
<rect x="361" y="157" width="1" height="18" fill="#000"/>
<rect x="359" y="163" width="5" height="10" fill="#000"/>
<rect x="360" y="164" width="3" height="8" fill="#fff"/>
<rect x="369" y="163" width="1" height="16" fill="#000"/>
<rect x="367" y="164" width="5" height="11" fill="#000"/>
<rect x="377" y="145" width="1" height="18" fill="#000"/>
<rect x="375" y="156" width="5" height="3" fill="#000"/>
<rect x="376" y="157" width="3" height="1" fill="#fff"/>
<rect x="385" y="155" width="1" height="23" fill="#000"/>
<rect x="383" y="156" width="5" height="16" fill="#000"/>
<rect x="393" y="184" width="1" height="16" fill="#000"/>
<rect x="391" y="194" width="5" height="2" fill="#000"/>
<rect x="401" y="194" width="1" height="9" fill="#000"/>
<rect x="399" y="196" width="5" height="5" fill="#000"/>
<rect x="409" y="190" width="1" height="14" fill="#000"/>
<rect x="407" y="193" width="5" height="2" fill="#000"/>
<rect x="417" y="194" width="1" height="25" fill="#000"/>
<rect x="415" y="194" width="5" height="20" fill="#000"/>
<rect x="425" y="215" width="1" height="17" fill="#000"/>
<rect x="423" y="221" width="5" height="4" fill="#000"/>
<rect x="433" y="204" width="1" height="20" fill="#000"/>
<rect x="431" y="208" width="5" height="16" fill="#000"/>
<rect x="432" y="209" width="3" height="14" fill="#fff"/>
<rect x="441" y="203" width="1" height="28" fill="#000"/>
<rect x="439" y="209" width="5" height="21" fill="#000"/>
<rect x="449" y="220" width="1" height="13" fill="#000"/>
<rect x="447" y="228" width="5" height="4" fill="#000"/>
<rect x="457" y="229" width="1" height="22" fill="#000"/>
<rect x="455" y="233" width="5" height="17" fill="#000"/>
<rect x="465" y="243" width="1" height="22" fill="#000"/>
<rect x="463" y="249" width="5" height="7" fill="#000"/>
<rect x="473" y="245" width="1" height="14" fill="#000"/>
<rect x="471" y="248" width="5" height="5" fill="#000"/>
<rect x="472" y="249" width="3" height="3" fill="#fff"/>
<rect x="481" y="235" width="1" height="16" fill="#000"/>
<rect x="479" y="247" width="5" height="3" fill="#000"/>
<rect x="480" y="248" width="3" height="1" fill="#fff"/>
<rect x="489" y="224" width="1" height="16" fill="#000"/>
<rect x="487" y="226" width="5" height="12" fill="#000"/>
<rect x="497" y="232" width="1" height="11" fill="#000"/>
<rect x="495" y="234" width="5" height="4" fill="#000"/>
<rect x="496" y="235" width="3" height="2" fill="#fff"/>
<rect x="505" y="223" width="1" height="16" fill="#000"/>
<rect x="503" y="228" width="5" height="3" fill="#000"/>
<rect x="513" y="224" width="1" height="9" fill="#000"/>
<rect x="511" y="226" width="5" height="5" fill="#000"/>
<rect x="512" y="227" width="3" height="3" fill="#fff"/>
<rect x="521" y="212" width="1" height="16" fill="#000"/>
<rect x="519" y="217" width="5" height="7" fill="#000"/>
<rect x="529" y="217" width="1" height="17" fill="#000"/>
<rect x="527" y="219" width="5" height="6" fill="#000"/>
<rect x="537" y="215" width="1" height="13" fill="#000"/>
<rect x="535" y="216" width="5" height="10" fill="#000"/>
<rect x="536" y="217" width="3" height="8" fill="#fff"/>
<rect x="545" y="220" width="1" height="17" fill="#000"/>
<rect x="543" y="222" width="5" height="14" fill="#000"/>
<rect x="553" y="233" width="1" height="9" fill="#000"/>
<rect x="551" y="235" width="5" height="3" fill="#000"/>
<rect x="561" y="224" width="1" height="15" fill="#000"/>
<rect x="559" y="231" width="5" height="5" fill="#000"/>
<rect x="560" y="232" width="3" height="3" fill="#fff"/>
<rect x="569" y="229" width="1" height="15" fill="#000"/>
<rect x="567" y="231" width="5" height="1" fill="#000"/>
<rect x="577" y="199" width="1" height="18" fill="#000"/>
<rect x="575" y="208" width="5" height="5" fill="#000"/>
<rect x="585" y="198" width="1" height="30" fill="#000"/>
<rect x="583" y="208" width="5" height="17" fill="#000"/>
<rect x="593" y="221" width="1" height="9" fill="#000"/>
<rect x="591" y="222" width="5" height="3" fill="#000"/>
<rect x="592" y="223" width="3" height="1" fill="#fff"/>
<rect x="601" y="211" width="1" height="22" fill="#000"/>
<rect x="599" y="215" width="5" height="12" fill="#000"/>
<rect x="609" y="215" width="1" height="14" fill="#000"/>
<rect x="607" y="220" width="5" height="6" fill="#000"/>
<rect x="608" y="221" width="3" height="4" fill="#fff"/>
<rect x="617" y="218" width="1" height="23" fill="#000"/>
<rect x="615" y="224" width="5" height="10" fill="#000"/>
<rect x="625" y="234" width="1" height="17" fill="#000"/>
<rect x="623" y="235" width="5" height="13" fill="#000"/>
<rect x="633" y="238" width="1" height="23" fill="#000"/>
<rect x="631" y="248" width="5" height="6" fill="#000"/>
<rect x="641" y="234" width="1" height="25" fill="#000"/>
<rect x="639" y="241" width="5" height="14" fill="#000"/>
<rect x="640" y="242" width="3" height="12" fill="#fff"/>
<rect x="649" y="213" width="1" height="20" fill="#000"/>
<rect x="647" y="218" width="5" height="5" fill="#000"/>
<rect x="648" y="219" width="3" height="3" fill="#fff"/>
<rect x="657" y="205" width="1" height="14" fill="#000"/>
<rect x="655" y="209" width="5" height="9" fill="#000"/>
<rect x="656" y="210" width="3" height="7" fill="#fff"/>
<rect x="665" y="190" width="1" height="24" fill="#000"/>
<rect x="663" y="194" width="5" height="13" fill="#000"/>
<rect x="664" y="195" width="3" height="11" fill="#fff"/>
<rect x="673" y="186" width="1" height="13" fill="#000"/>
<rect x="671" y="193" width="5" height="2" fill="#000"/>
<rect x="681" y="182" width="1" height="24" fill="#000"/>
<rect x="679" y="184" width="5" height="15" fill="#000"/>
<rect x="680" y="185" width="3" height="13" fill="#fff"/>
<rect x="689" y="183" width="1" height="20" fill="#000"/>
<rect x="687" y="185" width="5" height="9" fill="#000"/>
<rect x="697" y="156" width="1" height="20" fill="#000"/>
<rect x="695" y="156" width="5" height="17" fill="#000"/>
<rect x="696" y="157" width="3" height="15" fill="#fff"/>
<rect x="705" y="145" width="1" height="14" fill="#000"/>
<rect x="703" y="150" width="5" height="9" fill="#000"/>
<rect x="704" y="151" width="3" height="7" fill="#fff"/>
<rect x="713" y="136" width="1" height="12" fill="#000"/>
<rect x="711" y="136" width="5" height="8" fill="#000"/>
<rect x="721" y="139" width="1" height="14" fill="#000"/>
<rect x="719" y="141" width="5" height="2" fill="#000"/>
<rect x="729" y="151" width="1" height="12" fill="#000"/>
<rect x="727" y="157" width="5" height="3" fill="#000"/>
<rect x="737" y="146" width="1" height="15" fill="#000"/>
<rect x="735" y="146" width="5" height="13" fill="#000"/>
<rect x="736" y="147" width="3" height="11" fill="#fff"/>
<rect x="745" y="144" width="1" height="17" fill="#000"/>
<rect x="743" y="144" width="5" height="13" fill="#000"/>
<rect x="753" y="156" width="1" height="11" fill="#000"/>
<rect x="751" y="157" width="5" height="3" fill="#000"/>
<rect x="761" y="146" width="1" height="18" fill="#000"/>
<rect x="759" y="153" width="5" height="8" fill="#000"/>
<rect x="769" y="161" width="1" height="11" fill="#000"/>
<rect x="767" y="162" width="5" height="9" fill="#000"/>
<rect x="777" y="153" width="1" height="15" fill="#000"/>
<rect x="775" y="163" width="5" height="3" fill="#000"/>
<rect x="785" y="166" width="1" height="12" fill="#000"/>
<rect x="783" y="166" width="5" height="2" fill="#000"/>
<rect x="793" y="124" width="1" height="34" fill="#000"/>
<rect x="791" y="124" width="5" height="31" fill="#000"/>
<rect x="792" y="125" width="3" height="29" fill="#fff"/>
<rect x="801" y="105" width="1" height="20" fill="#000"/>
<rect x="799" y="105" width="5" height="20" fill="#000"/>
<rect x="800" y="106" width="3" height="18" fill="#fff"/>
<rect x="809" y="106" width="1" height="17" fill="#000"/>
<rect x="807" y="111" width="5" height="10" fill="#000"/>
<rect x="817" y="108" width="1" height="16" fill="#000"/>
<rect x="815" y="111" width="5" height="10" fill="#000"/>
<rect x="816" y="112" width="3" height="8" fill="#fff"/>
<rect x="825" y="121" width="1" height="13" fill="#000"/>
<rect x="823" y="125" width="5" height="2" fill="#000"/>
<rect x="833" y="119" width="1" height="15" fill="#000"/>
<rect x="831" y="125" width="5" height="4" fill="#000"/>
<rect x="841" y="150" width="1" height="19" fill="#000"/>
<rect x="839" y="152" width="5" height="8" fill="#000"/>
<rect x="840" y="153" width="3" height="6" fill="#fff"/>
<rect x="849" y="150" width="1" height="25" fill="#000"/>
<rect x="847" y="154" width="5" height="5" fill="#000"/>
<rect x="857" y="142" width="1" height="17" fill="#000"/>
<rect x="855" y="147" width="5" height="9" fill="#000"/>
<rect x="865" y="153" width="1" height="14" fill="#000"/>
<rect x="863" y="153" width="5" height="4" fill="#000"/>
<rect x="864" y="154" width="3" height="2" fill="#fff"/>
<rect x="873" y="167" width="1" height="32" fill="#000"/>
<rect x="871" y="167" width="5" height="31" fill="#000"/>
<rect x="881" y="183" width="1" height="22" fill="#000"/>
<rect x="879" y="186" width="5" height="11" fill="#000"/>
<rect x="880" y="187" width="3" height="9" fill="#fff"/>
<rect x="889" y="181" width="1" height="26" fill="#000"/>
<rect x="887" y="182" width="5" height="20" fill="#000"/>
<rect x="897" y="197" width="1" height="18" fill="#000"/>
<rect x="895" y="203" width="5" height="10" fill="#000"/>
<rect x="905" y="175" width="1" height="37" fill="#000"/>
<rect x="903" y="185" width="5" height="17" fill="#000"/>
<rect x="904" y="186" width="3" height="15" fill="#fff"/>
<rect x="913" y="140" width="1" height="26" fill="#000"/>
<rect x="911" y="143" width="5" height="14" fill="#000"/>
<rect x="912" y="144" width="3" height="12" fill="#fff"/>
<rect x="921" y="131" width="1" height="13" fill="#000"/>
<rect x="919" y="135" width="5" height="9" fill="#000"/>
<rect x="920" y="136" width="3" height="7" fill="#fff"/>
<rect x="929" y="132" width="1" height="18" fill="#000"/>
<rect x="927" y="138" width="5" height="3" fill="#000"/>
<rect x="937" y="135" width="1" height="12" fill="#000"/>
<rect x="935" y="138" width="5" height="4" fill="#000"/>
<rect x="945" y="133" width="1" height="28" fill="#000"/>
<rect x="943" y="140" width="5" height="20" fill="#000"/>
<rect x="953" y="145" width="1" height="19" fill="#000"/>
<rect x="951" y="150" width="5" height="10" fill="#000"/>
<rect x="952" y="151" width="3" height="8" fill="#fff"/>
<rect x="961" y="114" width="1" height="13" fill="#000"/>
<rect x="959" y="117" width="5" height="8" fill="#000"/>
<rect x="960" y="118" width="3" height="6" fill="#fff"/>
<rect x="969" y="111" width="1" height="11" fill="#000"/>
<rect x="967" y="115" width="5" height="2" fill="#000"/>
<rect x="977" y="99" width="1" height="30" fill="#000"/>
<rect x="975" y="102" width="5" height="23" fill="#000"/>
<rect x="985" y="103" width="1" height="22" fill="#000"/>
<rect x="983" y="105" width="5" height="19" fill="#000"/>
<rect x="984" y="106" width="3" height="17" fill="#fff"/>
<rect x="993" y="108" width="1" height="15" fill="#000"/>
<rect x="991" y="109" width="5" height="10" fill="#000"/>
<rect x="992" y="110" width="3" height="8" fill="#fff"/>
<rect x="1001" y="110" width="1" height="13" fill="#000"/>
<rect x="999" y="112" width="5" height="2" fill="#000"/>
<rect x="1009" y="122" width="1" height="19" fill="#000"/>
<rect x="1007" y="128" width="5" height="4" fill="#000"/>
<rect x="1017" y="128" width="1" height="15" fill="#000"/>
<rect x="1015" y="131" width="5" height="12" fill="#000"/>
<rect x="1025" y="134" width="1" height="15" fill="#000"/>
<rect x="1023" y="144" width="5" height="2" fill="#000"/>
<rect x="1033" y="136" width="1" height="22" fill="#000"/>
<rect x="1031" y="138" width="5" height="8" fill="#000"/>
<rect x="1032" y="139" width="3" height="6" fill="#fff"/>
<rect x="1041" y="122" width="1" height="15" fill="#000"/>
<rect x="1039" y="126" width="5" height="4" fill="#000"/>
<rect x="1040" y="127" width="3" height="2" fill="#fff"/>
<rect x="1049" y="121" width="1" height="11" fill="#000"/>
<rect x="1047" y="123" width="5" height="3" fill="#000"/>
<rect x="1048" y="124" width="3" height="1" fill="#fff"/>
<rect x="1057" y="113" width="1" height="22" fill="#000"/>
<rect x="1055" y="122" width="5" height="13" fill="#000"/>
<rect x="1065" y="117" width="1" height="21" fill="#000"/>
<rect x="1063" y="124" width="5" height="11" fill="#000"/>
<rect x="1064" y="125" width="3" height="9" fill="#fff"/>
<rect x="1073" y="120" width="1" height="15" fill="#000"/>
<rect x="1071" y="125" width="5" height="7" fill="#000"/>
<rect x="1072" y="126" width="3" height="5" fill="#fff"/>
<rect x="1081" y="122" width="1" height="32" fill="#000"/>
<rect x="1079" y="125" width="5" height="26" fill="#000"/>
<rect x="1089" y="156" width="1" height="15" fill="#000"/>
<rect x="1087" y="161" width="5" height="3" fill="#000"/>
<rect x="1088" y="162" width="3" height="1" fill="#fff"/>
<rect x="1097" y="158" width="1" height="15" fill="#000"/>
<rect x="1095" y="160" width="5" height="2" fill="#000"/>
<rect x="1105" y="181" width="1" height="37" fill="#000"/>
<rect x="1103" y="182" width="5" height="29" fill="#000"/>
<rect x="1113" y="199" width="1" height="17" fill="#000"/>
<rect x="1111" y="201" width="5" height="9" fill="#000"/>
<rect x="1112" y="202" width="3" height="7" fill="#fff"/>
<rect x="1121" y="192" width="1" height="14" fill="#000"/>
<rect x="1119" y="194" width="5" height="8" fill="#000"/>
<rect x="1120" y="195" width="3" height="6" fill="#fff"/>
<rect x="1129" y="190" width="1" height="8" fill="#000"/>
<rect x="1127" y="194" width="5" height="2" fill="#000"/>
<rect x="1137" y="220" width="1" height="38" fill="#000"/>
<rect x="1135" y="230" width="5" height="23" fill="#000"/>
<rect x="1145" y="247" width="1" height="15" fill="#000"/>
<rect x="1143" y="249" width="5" height="6" fill="#000"/>
<rect x="1153" y="243" width="1" height="22" fill="#000"/>
<rect x="1151" y="247" width="5" height="8" fill="#000"/>
<rect x="1161" y="252" width="1" height="15" fill="#000"/>
<rect x="1159" y="255" width="5" height="11" fill="#000"/>
<rect x="1169" y="258" width="1" height="29" fill="#000"/>
<rect x="1167" y="263" width="5" height="21" fill="#000"/>
<rect x="1177" y="261" width="1" height="25" fill="#000"/>
<rect x="1175" y="264" width="5" height="22" fill="#000"/>
<rect x="1176" y="265" width="3" height="20" fill="#fff"/>
<rect x="1185" y="258" width="1" height="15" fill="#000"/>
<rect x="1183" y="258" width="5" height="9" fill="#000"/>
<rect x="1193" y="250" width="1" height="25" fill="#000"/>
<rect x="1191" y="267" width="5" height="5" fill="#000"/>
<rect x="1201" y="267" width="1" height="16" fill="#000"/>
<rect x="1199" y="278" width="5" height="1" fill="#000"/>
<rect x="1209" y="275" width="1" height="20" fill="#000"/>
<rect x="1207" y="278" width="5" height="10" fill="#000"/>
<rect x="1217" y="278" width="1" height="12" fill="#000"/>
<rect x="1215" y="284" width="5" height="4" fill="#000"/>
<rect x="1216" y="285" width="3" height="2" fill="#fff"/>
<rect x="1225" y="280" width="1" height="9" fill="#000"/>
<rect x="1223" y="284" width="5" height="2" fill="#000"/>
<rect x="1233" y="312" width="1" height="17" fill="#000"/>
<rect x="1231" y="323" width="5" height="3" fill="#000"/>
<rect x="1232" y="324" width="3" height="1" fill="#fff"/>
<rect x="1241" y="313" width="1" height="13" fill="#000"/>
<rect x="1239" y="320" width="5" height="4" fill="#000"/>
<rect x="1240" y="321" width="3" height="2" fill="#fff"/>
<rect x="1249" y="351" width="1" height="45" fill="#000"/>
<rect x="1247" y="351" width="5" height="21" fill="#000"/>
<rect x="1257" y="358" width="1" height="28" fill="#000"/>
<rect x="1255" y="370" width="5" height="15" fill="#000"/>
<rect x="1265" y="360" width="1" height="30" fill="#000"/>
<rect x="1263" y="383" width="5" height="2" fill="#000"/>
<rect x="1273" y="375" width="1" height="33" fill="#000"/>
<rect x="1271" y="386" width="5" height="2" fill="#000"/>
<rect x="1281" y="381" width="1" height="52" fill="#000"/>
<rect x="1279" y="385" width="5" height="44" fill="#000"/>
<rect x="1289" y="401" width="1" height="42" fill="#000"/>
<rect x="1287" y="410" width="5" height="14" fill="#000"/>
<rect x="1288" y="411" width="3" height="12" fill="#fff"/>
<rect x="1297" y="371" width="1" height="25" fill="#000"/>
<rect x="1295" y="377" width="5" height="10" fill="#000"/>
<rect x="1305" y="385" width="1" height="14" fill="#000"/>
<rect x="1303" y="388" width="5" height="4" fill="#000"/>
<rect x="1313" y="417" width="1" height="25" fill="#000"/>
<rect x="1311" y="421" width="5" height="10" fill="#000"/>
<rect x="1321" y="392" width="1" height="47" fill="#000"/>
<rect x="1319" y="411" width="5" height="23" fill="#000"/>
<rect x="1320" y="412" width="3" height="21" fill="#fff"/>
<rect x="1329" y="430" width="1" height="36" fill="#000"/>
<rect x="1327" y="444" width="5" height="18" fill="#000"/>
<rect x="1337" y="451" width="1" height="35" fill="#000"/>
<rect x="1335" y="461" width="5" height="14" fill="#000"/>
<rect x="1345" y="486" width="1" height="58" fill="#000"/>
<rect x="1343" y="509" width="5" height="8" fill="#000"/>
<rect x="1353" y="515" width="1" height="52" fill="#000"/>
<rect x="1351" y="516" width="5" height="45" fill="#000"/>
<rect x="1361" y="509" width="1" height="35" fill="#000"/>
<rect x="1359" y="517" width="5" height="6" fill="#000"/>
<rect x="1369" y="429" width="1" height="93" fill="#000"/>
<rect x="1367" y="437" width="5" height="84" fill="#000"/>
<rect x="1368" y="438" width="3" height="82" fill="#fff"/>
<rect x="1377" y="343" width="1" height="51" fill="#000"/>
<rect x="1375" y="362" width="5" height="2" fill="#000"/>
<rect x="1385" y="340" width="1" height="35" fill="#000"/>
<rect x="1383" y="345" width="5" height="15" fill="#000"/>
<rect x="1384" y="346" width="3" height="13" fill="#fff"/>
<rect x="1393" y="358" width="1" height="26" fill="#000"/>
<rect x="1391" y="367" width="5" height="12" fill="#000"/>
<rect x="1401" y="334" width="1" height="46" fill="#000"/>
<rect x="1399" y="348" width="5" height="30" fill="#000"/>
<rect x="1400" y="349" width="3" height="28" fill="#fff"/>
<rect x="1409" y="311" width="1" height="45" fill="#000"/>
<rect x="1407" y="312" width="5" height="41" fill="#000"/>
<rect x="1417" y="351" width="1" height="22" fill="#000"/>
<rect x="1415" y="353" width="5" height="9" fill="#000"/>
<rect x="1425" y="344" width="1" height="16" fill="#000"/>
<rect x="1423" y="347" width="5" height="10" fill="#000"/>
<rect x="1424" y="348" width="3" height="8" fill="#fff"/>
<rect x="1433" y="311" width="1" height="41" fill="#000"/>
<rect x="1431" y="313" width="5" height="36" fill="#000"/>
<rect x="1432" y="314" width="3" height="34" fill="#fff"/>
<rect x="1.5" y="250.5" width="4" height="4" fill="#fff" stroke="#ff0000" stroke-width="1"/>
<rect x="1655.5" y="250.5" width="4" height="4" fill="#fff" stroke="#ff0000" stroke-width="1"/>
<rect x="1.5" y="279.5" width="4" height="4" fill="#fff" stroke="#ff0000" stroke-width="1"/>
<rect x="1655.5" y="279.5" width="4" height="4" fill="#fff" stroke="#ff0000" stroke-width="1"/>
<rect x="1.5" y="325.5" width="4" height="4" fill="#fff" stroke="#32cd32" stroke-width="1"/>
<rect x="1655.5" y="325.5" width="4" height="4" fill="#fff" stroke="#32cd32" stroke-width="1"/>
<rect x="1.5" y="356.5" width="4" height="4" fill="#fff" stroke="#0000ff" stroke-width="1"/>
<rect x="1655.5" y="356.5" width="4" height="4" fill="#fff" stroke="#0000ff" stroke-width="1"/>
<rect x="1137.5" y="325.5" width="2" height="4" fill="#fff" stroke="#f00" stroke-width="1"/>
<rect x="1" y="626" width="1" height="21" fill="#c0c0c0"/>
<rect x="9" y="626" width="1" height="23" fill="#c0c0c0"/>
<rect x="17" y="626" width="1" height="20" fill="#c0c0c0"/>
<rect x="25" y="626" width="1" height="19" fill="#c0c0c0"/>
<rect x="33" y="626" width="1" height="14" fill="#c0c0c0"/>
<rect x="41" y="626" width="1" height="10" fill="#c0c0c0"/>
<rect x="49" y="626" width="1" height="7" fill="#c0c0c0"/>
<rect x="57" y="626" width="1" height="4" fill="#c0c0c0"/>
<rect x="65" y="626" width="1" height="1" fill="#c0c0c0"/>
<rect x="73" y="624" width="1" height="3" fill="#c0c0c0"/>
<rect x="81" y="620" width="1" height="7" fill="#c0c0c0"/>
<rect x="89" y="618" width="1" height="9" fill="#c0c0c0"/>
<rect x="97" y="616" width="1" height="11" fill="#c0c0c0"/>
<rect x="105" y="618" width="1" height="9" fill="#c0c0c0"/>
<rect x="113" y="619" width="1" height="8" fill="#c0c0c0"/>
<rect x="121" y="624" width="1" height="3" fill="#c0c0c0"/>
<rect x="129" y="626" width="1" height="1" fill="#c0c0c0"/>
<rect x="137" y="626" width="1" height="2" fill="#c0c0c0"/>
<rect x="145" y="626" width="1" height="4" fill="#c0c0c0"/>
<rect x="153" y="626" width="1" height="8" fill="#c0c0c0"/>
<rect x="161" y="626" width="1" height="12" fill="#c0c0c0"/>
<rect x="169" y="626" width="1" height="14" fill="#c0c0c0"/>
<rect x="177" y="626" width="1" height="16" fill="#c0c0c0"/>
<rect x="185" y="626" width="1" height="16" fill="#c0c0c0"/>
<rect x="193" y="626" width="1" height="16" fill="#c0c0c0"/>
<rect x="201" y="626" width="1" height="21" fill="#c0c0c0"/>
<rect x="209" y="626" width="1" height="26" fill="#c0c0c0"/>
<rect x="217" y="626" width="1" height="30" fill="#c0c0c0"/>
<rect x="225" y="626" width="1" height="35" fill="#c0c0c0"/>
<rect x="233" y="626" width="1" height="41" fill="#c0c0c0"/>
<rect x="241" y="626" width="1" height="45" fill="#c0c0c0"/>
<rect x="249" y="626" width="1" height="45" fill="#c0c0c0"/>
<rect x="257" y="626" width="1" height="46" fill="#c0c0c0"/>
<rect x="265" y="626" width="1" height="45" fill="#c0c0c0"/>
<rect x="273" y="626" width="1" height="44" fill="#c0c0c0"/>
<rect x="281" y="626" width="1" height="43" fill="#c0c0c0"/>
<rect x="289" y="626" width="1" height="43" fill="#c0c0c0"/>
<rect x="297" y="626" width="1" height="42" fill="#c0c0c0"/>
<rect x="305" y="626" width="1" height="43" fill="#c0c0c0"/>
<rect x="313" y="626" width="1" height="41" fill="#c0c0c0"/>
<rect x="321" y="626" width="1" height="35" fill="#c0c0c0"/>
<rect x="329" y="626" width="1" height="31" fill="#c0c0c0"/>
<rect x="337" y="626" width="1" height="27" fill="#c0c0c0"/>
<rect x="345" y="626" width="1" height="21" fill="#c0c0c0"/>
<rect x="353" y="626" width="1" height="17" fill="#c0c0c0"/>
<rect x="361" y="626" width="1" height="14" fill="#c0c0c0"/>
<rect x="369" y="626" width="1" height="13" fill="#c0c0c0"/>
<rect x="377" y="626" width="1" height="10" fill="#c0c0c0"/>
<rect x="385" y="626" width="1" height="9" fill="#c0c0c0"/>
<rect x="393" y="626" width="1" height="11" fill="#c0c0c0"/>
<rect x="401" y="626" width="1" height="14" fill="#c0c0c0"/>
<rect x="409" y="626" width="1" height="15" fill="#c0c0c0"/>
<rect x="417" y="626" width="1" height="18" fill="#c0c0c0"/>
<rect x="425" y="626" width="1" height="22" fill="#c0c0c0"/>
<rect x="433" y="626" width="1" height="22" fill="#c0c0c0"/>
<rect x="441" y="626" width="1" height="25" fill="#c0c0c0"/>
<rect x="449" y="626" width="1" height="27" fill="#c0c0c0"/>
<rect x="457" y="626" width="1" height="31" fill="#c0c0c0"/>
<rect x="465" y="626" width="1" height="35" fill="#c0c0c0"/>
<rect x="473" y="626" width="1" height="36" fill="#c0c0c0"/>
<rect x="481" y="626" width="1" height="37" fill="#c0c0c0"/>
<rect x="489" y="626" width="1" height="35" fill="#c0c0c0"/>
<rect x="497" y="626" width="1" height="34" fill="#c0c0c0"/>
<rect x="505" y="626" width="1" height="31" fill="#c0c0c0"/>
<rect x="513" y="626" width="1" height="29" fill="#c0c0c0"/>
<rect x="521" y="626" width="1" height="26" fill="#c0c0c0"/>
<rect x="529" y="626" width="1" height="23" fill="#c0c0c0"/>
<rect x="537" y="626" width="1" height="20" fill="#c0c0c0"/>
<rect x="545" y="626" width="1" height="20" fill="#c0c0c0"/>
<rect x="553" y="626" width="1" height="20" fill="#c0c0c0"/>
<rect x="561" y="626" width="1" height="19" fill="#c0c0c0"/>
<rect x="569" y="626" width="1" height="18" fill="#c0c0c0"/>
<rect x="577" y="626" width="1" height="14" fill="#c0c0c0"/>
<rect x="585" y="626" width="1" height="13" fill="#c0c0c0"/>
<rect x="593" y="626" width="1" height="11" fill="#c0c0c0"/>
<rect x="601" y="626" width="1" height="11" fill="#c0c0c0"/>
<rect x="609" y="626" width="1" height="9" fill="#c0c0c0"/>
<rect x="617" y="626" width="1" height="10" fill="#c0c0c0"/>
<rect x="625" y="626" width="1" height="12" fill="#c0c0c0"/>
<rect x="633" y="626" width="1" height="14" fill="#c0c0c0"/>
<rect x="641" y="626" width="1" height="14" fill="#c0c0c0"/>
<rect x="649" y="626" width="1" height="11" fill="#c0c0c0"/>
<rect x="657" y="626" width="1" height="7" fill="#c0c0c0"/>
<rect x="665" y="626" width="1" height="2" fill="#c0c0c0"/>
<rect x="673" y="625" width="1" height="2" fill="#c0c0c0"/>
<rect x="681" y="621" width="1" height="6" fill="#c0c0c0"/>
<rect x="689" y="619" width="1" height="8" fill="#c0c0c0"/>
<rect x="697" y="612" width="1" height="15" fill="#c0c0c0"/>
<rect x="705" y="607" width="1" height="20" fill="#c0c0c0"/>
<rect x="713" y="601" width="1" height="26" fill="#c0c0c0"/>
<rect x="721" y="597" width="1" height="30" fill="#c0c0c0"/>
<rect x="729" y="597" width="1" height="30" fill="#c0c0c0"/>
<rect x="737" y="595" width="1" height="32" fill="#c0c0c0"/>
<rect x="745" y="596" width="1" height="31" fill="#c0c0c0"/>
<rect x="753" y="597" width="1" height="30" fill="#c0c0c0"/>
<rect x="761" y="598" width="1" height="29" fill="#c0c0c0"/>
<rect x="769" y="601" width="1" height="26" fill="#c0c0c0"/>
<rect x="777" y="602" width="1" height="25" fill="#c0c0c0"/>
<rect x="785" y="604" width="1" height="23" fill="#c0c0c0"/>
<rect x="793" y="600" width="1" height="27" fill="#c0c0c0"/>
<rect x="801" y="595" width="1" height="32" fill="#c0c0c0"/>
<rect x="809" y="593" width="1" height="34" fill="#c0c0c0"/>
<rect x="817" y="591" width="1" height="36" fill="#c0c0c0"/>
<rect x="825" y="592" width="1" height="35" fill="#c0c0c0"/>
<rect x="833" y="593" width="1" height="34" fill="#c0c0c0"/>
<rect x="841" y="597" width="1" height="30" fill="#c0c0c0"/>
<rect x="849" y="602" width="1" height="25" fill="#c0c0c0"/>
<rect x="857" y="606" width="1" height="21" fill="#c0c0c0"/>
<rect x="865" y="608" width="1" height="19" fill="#c0c0c0"/>
<rect x="873" y="617" width="1" height="10" fill="#c0c0c0"/>
<rect x="881" y="622" width="1" height="5" fill="#c0c0c0"/>
<rect x="889" y="626" width="1" height="1" fill="#c0c0c0"/>
<rect x="897" y="626" width="1" height="7" fill="#c0c0c0"/>
<rect x="905" y="626" width="1" height="8" fill="#c0c0c0"/>
<rect x="913" y="626" width="1" height="3" fill="#c0c0c0"/>
<rect x="921" y="626" width="1" height="1" fill="#c0c0c0"/>
<rect x="929" y="624" width="1" height="3" fill="#c0c0c0"/>
<rect x="937" y="621" width="1" height="6" fill="#c0c0c0"/>
<rect x="945" y="621" width="1" height="6" fill="#c0c0c0"/>
<rect x="953" y="621" width="1" height="6" fill="#c0c0c0"/>
<rect x="961" y="616" width="1" height="11" fill="#c0c0c0"/>
<rect x="969" y="612" width="1" height="15" fill="#c0c0c0"/>
<rect x="977" y="611" width="1" height="16" fill="#c0c0c0"/>
<rect x="985" y="607" width="1" height="20" fill="#c0c0c0"/>
<rect x="993" y="605" width="1" height="22" fill="#c0c0c0"/>
<rect x="1001" y="604" width="1" height="23" fill="#c0c0c0"/>
<rect x="1009" y="606" width="1" height="21" fill="#c0c0c0"/>
<rect x="1017" y="609" width="1" height="18" fill="#c0c0c0"/>
<rect x="1025" y="613" width="1" height="14" fill="#c0c0c0"/>
<rect x="1033" y="614" width="1" height="13" fill="#c0c0c0"/>
<rect x="1041" y="614" width="1" height="13" fill="#c0c0c0"/>
<rect x="1049" y="614" width="1" height="13" fill="#c0c0c0"/>
<rect x="1057" y="615" width="1" height="12" fill="#c0c0c0"/>
<rect x="1065" y="615" width="1" height="12" fill="#c0c0c0"/>
<rect x="1073" y="615" width="1" height="12" fill="#c0c0c0"/>
<rect x="1081" y="619" width="1" height="8" fill="#c0c0c0"/>
<rect x="1089" y="623" width="1" height="4" fill="#c0c0c0"/>
<rect x="1097" y="626" width="1" height="1" fill="#c0c0c0"/>
<rect x="1105" y="626" width="1" height="9" fill="#c0c0c0"/>
<rect x="1113" y="626" width="1" height="15" fill="#c0c0c0"/>
<rect x="1121" y="626" width="1" height="18" fill="#c0c0c0"/>
<rect x="1129" y="626" width="1" height="21" fill="#c0c0c0"/>
<rect x="1137" y="626" width="1" height="30" fill="#c0c0c0"/>
<rect x="1145" y="626" width="1" height="38" fill="#c0c0c0"/>
<rect x="1153" y="626" width="1" height="43" fill="#c0c0c0"/>
<rect x="1161" y="626" width="1" height="48" fill="#c0c0c0"/>
<rect x="1169" y="626" width="1" height="54" fill="#c0c0c0"/>
<rect x="1177" y="626" width="1" height="55" fill="#c0c0c0"/>
<rect x="1185" y="626" width="1" height="56" fill="#c0c0c0"/>
<rect x="1193" y="626" width="1" height="57" fill="#c0c0c0"/>
<rect x="1201" y="626" width="1" height="57" fill="#c0c0c0"/>
<rect x="1209" y="626" width="1" height="59" fill="#c0c0c0"/>
<rect x="1217" y="626" width="1" height="58" fill="#c0c0c0"/>
<rect x="1225" y="626" width="1" height="57" fill="#c0c0c0"/>
<rect x="1233" y="626" width="1" height="62" fill="#c0c0c0"/>
<rect x="1241" y="626" width="1" height="64" fill="#c0c0c0"/>
<rect x="1249" y="626" width="1" height="71" fill="#c0c0c0"/>
<rect x="1257" y="626" width="1" height="78" fill="#c0c0c0"/>
<rect x="1265" y="626" width="1" height="82" fill="#c0c0c0"/>
<rect x="1273" y="626" width="1" height="85" fill="#c0c0c0"/>
<rect x="1281" y="626" width="1" height="92" fill="#c0c0c0"/>
<rect x="1289" y="626" width="1" height="94" fill="#c0c0c0"/>
<rect x="1297" y="626" width="1" height="91" fill="#c0c0c0"/>
<rect x="1305" y="626" width="1" height="89" fill="#c0c0c0"/>
<rect x="1313" y="626" width="1" height="91" fill="#c0c0c0"/>
<rect x="1321" y="626" width="1" height="93" fill="#c0c0c0"/>
<rect x="1329" y="626" width="1" height="93" fill="#c0c0c0"/>
<rect x="1337" y="626" width="1" height="97" fill="#c0c0c0"/>
<rect x="1345" y="626" width="1" height="104" fill="#c0c0c0"/>
<rect x="1353" y="626" width="1" height="115" fill="#c0c0c0"/>
<rect x="1361" y="626" width="1" height="117" fill="#c0c0c0"/>
<rect x="1369" y="626" width="1" height="106" fill="#c0c0c0"/>
<rect x="1377" y="626" width="1" height="86" fill="#c0c0c0"/>
<rect x="1385" y="626" width="1" height="67" fill="#c0c0c0"/>
<rect x="1393" y="626" width="1" height="56" fill="#c0c0c0"/>
<rect x="1401" y="626" width="1" height="43" fill="#c0c0c0"/>
<rect x="1409" y="626" width="1" height="33" fill="#c0c0c0"/>
<rect x="1417" y="626" width="1" height="25" fill="#c0c0c0"/>
<rect x="1425" y="626" width="1" height="15" fill="#c0c0c0"/>
<rect x="1433" y="626" width="1" height="7" fill="#c0c0c0"/>
<path d="M828 596.5h3M834 596.5h3M840 596.5h3M846 596.5h3M852 596.5h2M774 597.5h3M780 597.5h3M810 597.5h3M816 597.5h3M822 597.5h3M854 597.5h1M858 597.5h3M864 597.5h3M768 598.5h3M786 598.5h3M792 598.5h3M798 598.5h3M804 598.5h3M870 598.5h2M762 599.5h3M872 599.5h1M756 600.5h3M876 600.5h1M752 601.5h1M877 601.5h2M750 602.5h2M882 602.5h1M883 603.5h2M744 604.5h3M888 605.5h1M739 606.5h2M889 606.5h1M738 607.5h1M890 607.5h1M1026 608.5h3M1032 608.5h3M1038 608.5h3M1044 608.5h3M1050 608.5h1M733 609.5h2M894 609.5h1M1014 609.5h3M1020 609.5h3M1051 609.5h2M1056 609.5h3M732 610.5h1M895 610.5h2M1008 610.5h3M1062 610.5h3M1003 611.5h2M1068 611.5h1M727 612.5h2M1002 612.5h1M1069 612.5h2M1074 612.5h3M726 613.5h1M900 613.5h2M996 613.5h3M1080 613.5h3M902 614.5h1M991 614.5h2M1086 614.5h3M722 615.5h1M990 615.5h1M1092 615.5h2M720 616.5h2M906 616.5h2M986 616.5h1M1094 616.5h1M908 617.5h1M984 617.5h2M1098 617.5h3M716 618.5h1M1104 618.5h1M714 619.5h2M912 619.5h2M978 619.5h3M1105 619.5h2M126 620.5h3M132 620.5h3M914 620.5h1M974 620.5h1M120 621.5h3M138 621.5h3M144 621.5h3M710 621.5h1M918 621.5h1M972 621.5h2M1110 621.5h2M114 622.5h3M150 622.5h1M708 622.5h2M919 622.5h2M967 622.5h2M1112 622.5h1M108 623.5h3M151 623.5h2M924 623.5h3M966 623.5h1M1116 623.5h1M103 624.5h2M156 624.5h3M704 624.5h1M930 624.5h3M960 624.5h3M1117 624.5h2M102 625.5h1M162 625.5h1M702 625.5h2M936 625.5h3M950 625.5h1M954 625.5h3M98 626.5h1M163 626.5h2M942 626.5h3M948 626.5h2M1122 626.5h2M96 627.5h2M168 627.5h3M698 627.5h1M1124 627.5h1M696 628.5h2M91 629.5h2M174 629.5h1M1128 629.5h2M90 630.5h1M175 630.5h2M692 630.5h1M1130 630.5h1M85 631.5h2M690 631.5h2M84 632.5h1M180 632.5h2M1134 632.5h2M182 633.5h1M684 633.5h3M1136 633.5h1M79 634.5h2M186 634.5h1M674 634.5h1M678 634.5h3M78 635.5h1M187 635.5h2M667 635.5h2M672 635.5h2M1140 635.5h1M192 636.5h1M661 636.5h2M666 636.5h1M1141 636.5h1M73 637.5h2M193 637.5h2M198 637.5h1M655 637.5h2M660 637.5h1M1142 637.5h1M72 638.5h1M199 638.5h2M642 638.5h3M648 638.5h3M654 638.5h1M66 639.5h3M204 639.5h1M414 639.5h3M420 639.5h1M624 639.5h3M630 639.5h3M636 639.5h3M1146 639.5h1M61 640.5h2M205 640.5h2M408 640.5h3M421 640.5h2M618 640.5h3M1147 640.5h1M60 641.5h1M402 641.5h3M426 641.5h3M612 641.5h3M1148 641.5h1M0 642.5h3M54 642.5h3M210 642.5h1M397 642.5h2M432 642.5h3M438 642.5h3M602 642.5h1M606 642.5h3M6 643.5h3M48 643.5h3M211 643.5h2M396 643.5h1M444 643.5h3M594 643.5h3M600 643.5h2M12 644.5h3M18 644.5h3M38 644.5h1M42 644.5h3M216 644.5h1M392 644.5h1M450 644.5h1M588 644.5h3M1152 644.5h1M24 645.5h3M30 645.5h3M36 645.5h2M217 645.5h2M390 645.5h2M451 645.5h2M584 645.5h1M1153 645.5h1M222 646.5h2M386 646.5h1M456 646.5h2M582 646.5h2M1154 646.5h1M224 647.5h1M384 647.5h2M458 647.5h1M576 647.5h3M228 648.5h1M462 648.5h2M1158 648.5h1M229 649.5h2M378 649.5h3M464 649.5h1M570 649.5h3M1159 649.5h2M468 650.5h1M565 650.5h2M234 651.5h2M373 651.5h2M469 651.5h2M560 651.5h1M564 651.5h1M236 652.5h1M372 652.5h1M474 652.5h1M553 652.5h2M558 652.5h2M1164 652.5h1M240 653.5h2M368 653.5h1M475 653.5h2M548 653.5h1M552 653.5h1M1165 653.5h1M242 654.5h1M366 654.5h2M480 654.5h3M546 654.5h2M1166 654.5h1M246 655.5h1M486 655.5h2M540 655.5h3M247 656.5h2M361 656.5h2M488 656.5h1M492 656.5h1M536 656.5h1M360 657.5h1M493 657.5h2M498 657.5h1M534 657.5h2M1170 657.5h1M252 658.5h2M356 658.5h1M499 658.5h2M504 658.5h2M528 658.5h3M1171 658.5h1M254 659.5h1M354 659.5h2M506 659.5h1M510 659.5h3M516 659.5h3M522 659.5h3M1172 659.5h1M258 661.5h3M348 661.5h3M1176 661.5h1M264 662.5h1M1177 662.5h2M265 663.5h2M343 663.5h2M270 664.5h1M342 664.5h1M1182 664.5h1M271 665.5h2M1183 665.5h2M336 666.5h3M276 667.5h1M325 667.5h2M330 667.5h3M277 668.5h2M282 668.5h1M319 668.5h2M324 668.5h1M1188 668.5h2M283 669.5h2M288 669.5h3M294 669.5h1M318 669.5h1M1190 669.5h1M295 670.5h2M300 670.5h3M306 670.5h3M312 670.5h3M1194 672.5h2M1196 673.5h1M1200 675.5h2M1202 676.5h1M1206 677.5h1M1207 678.5h2M1212 679.5h1M1213 680.5h2M1218 681.5h3M1430 681.5h1M1224 682.5h3M1429 682.5h1M1230 683.5h3M1236 683.5h1M1428 683.5h1M1237 684.5h2M1242 684.5h3M1248 685.5h1M1249 686.5h2M1426 687.5h1M1254 688.5h1M1425 688.5h1M1255 689.5h2M1424 689.5h1M1260 691.5h3M1266 692.5h1M1267 693.5h2M1422 693.5h1M1272 694.5h1M1421 694.5h1M1273 695.5h2M1420 695.5h1M1278 697.5h1M1279 698.5h2M1418 699.5h1M1284 700.5h2M1417 700.5h1M1286 701.5h1M1416 701.5h1M1290 703.5h2M1292 704.5h1M1412 705.5h1M1296 706.5h2M1411 706.5h1M1298 707.5h1M1410 707.5h1M1302 708.5h1M1303 709.5h2M1308 711.5h3M1405 711.5h2M1404 712.5h1M1314 713.5h2M1316 714.5h1M1320 714.5h1M1321 715.5h2M1326 715.5h3M1400 715.5h1M1332 716.5h3M1398 716.5h2M1338 717.5h1M1339 718.5h2M1344 719.5h3M1393 719.5h2M1392 720.5h1M1350 721.5h2M1352 722.5h1M1388 722.5h1M1356 723.5h1M1386 723.5h2M1357 724.5h2M1362 725.5h3M1381 725.5h2M1368 726.5h3M1380 726.5h1M1374 727.5h3" fill="none" stroke="#ff0000" stroke-width="1"/>
<line x1="1" y1="789.5" x2="1660" y2="789.5" stroke="#c0c0c0" stroke-width="1" stroke-dasharray="3,3" stroke-dashoffset="5"/>
<line x1="1" y1="840.5" x2="1660" y2="840.5" stroke="#c0c0c0" stroke-width="1" stroke-dasharray="3,3" stroke-dashoffset="5"/>
<line x1="1" y1="901.5" x2="1660" y2="901.5" stroke="#c0c0c0" stroke-width="1" stroke-dasharray="3,3" stroke-dashoffset="5"/>
<path d="M717 803.5h5M801 803.5h1M711 804.5h6M722 804.5h1M799 804.5h2M802 804.5h1M707 805.5h4M722 805.5h1M798 805.5h1M802 805.5h1M704 806.5h3M723 806.5h1M797 806.5h1M803 806.5h1M702 807.5h2M723 807.5h1M795 807.5h2M804 807.5h1M700 808.5h2M724 808.5h1M794 808.5h1M805 808.5h1M698 809.5h2M724 809.5h1M793 809.5h1M805 809.5h1M697 810.5h1M725 810.5h1M793 810.5h1M806 810.5h1M696 811.5h1M725 811.5h1M792 811.5h1M807 811.5h1M816 811.5h2M696 812.5h1M726 812.5h1M737 812.5h1M792 812.5h1M808 812.5h1M813 812.5h3M818 812.5h1M695 813.5h1M726 813.5h1M735 813.5h2M738 813.5h1M791 813.5h1M808 813.5h1M811 813.5h2M819 813.5h1M695 814.5h1M727 814.5h1M734 814.5h1M739 814.5h1M791 814.5h1M809 814.5h2M820 814.5h1M694 815.5h1M727 815.5h1M733 815.5h1M740 815.5h1M791 815.5h1M821 815.5h1M694 816.5h1M728 816.5h1M731 816.5h2M741 816.5h1M790 816.5h1M821 816.5h1M693 817.5h1M728 817.5h1M730 817.5h1M742 817.5h1M790 817.5h1M822 817.5h1M681 818.5h1M692 818.5h1M729 818.5h1M743 818.5h1M790 818.5h1M823 818.5h1M679 819.5h2M682 819.5h1M692 819.5h1M744 819.5h1M789 819.5h1M824 819.5h1M985 819.5h2M73 820.5h9M677 820.5h2M683 820.5h2M691 820.5h1M745 820.5h2M789 820.5h1M825 820.5h2M984 820.5h1M987 820.5h2M72 821.5h1M82 821.5h1M676 821.5h1M685 821.5h1M691 821.5h1M747 821.5h2M788 821.5h1M827 821.5h4M983 821.5h1M989 821.5h3M71 822.5h1M83 822.5h2M96 822.5h2M665 822.5h4M674 822.5h2M686 822.5h1M690 822.5h1M749 822.5h3M788 822.5h1M831 822.5h3M961 822.5h9M981 822.5h2M992 822.5h3M71 823.5h1M85 823.5h1M94 823.5h2M97 823.5h1M664 823.5h1M669 823.5h5M687 823.5h2M690 823.5h1M752 823.5h10M788 823.5h1M834 823.5h1M960 823.5h1M970 823.5h2M980 823.5h1M995 823.5h4M70 824.5h1M86 824.5h1M92 824.5h2M98 824.5h1M663 824.5h1M689 824.5h1M762 824.5h1M787 824.5h1M834 824.5h1M960 824.5h1M972 824.5h2M979 824.5h1M999 824.5h3M69 825.5h1M87 825.5h2M90 825.5h2M98 825.5h1M662 825.5h1M763 825.5h1M787 825.5h1M835 825.5h1M959 825.5h1M974 825.5h2M978 825.5h1M1002 825.5h1M68 826.5h1M89 826.5h1M99 826.5h1M661 826.5h1M764 826.5h1M787 826.5h1M835 826.5h1M959 826.5h1M976 826.5h2M1002 826.5h1M67 827.5h1M99 827.5h1M660 827.5h1M765 827.5h1M786 827.5h1M836 827.5h1M920 827.5h3M958 827.5h1M1003 827.5h1M1433 827.5h1M67 828.5h1M100 828.5h1M659 828.5h1M766 828.5h1M776 828.5h3M786 828.5h1M836 828.5h1M917 828.5h3M923 828.5h2M957 828.5h1M1004 828.5h1M1432 828.5h1M66 829.5h1M100 829.5h1M658 829.5h1M767 829.5h1M773 829.5h3M779 829.5h4M785 829.5h1M837 829.5h1M915 829.5h2M925 829.5h3M957 829.5h1M1005 829.5h1M1431 829.5h1M64 830.5h2M101 830.5h1M657 830.5h1M768 830.5h1M771 830.5h2M783 830.5h3M837 830.5h1M913 830.5h2M928 830.5h10M956 830.5h1M1005 830.5h1M1047 830.5h3M1429 830.5h2M45 831.5h6M62 831.5h2M101 831.5h1M655 831.5h2M769 831.5h2M838 831.5h1M913 831.5h1M938 831.5h1M955 831.5h1M1006 831.5h1M1043 831.5h4M1050 831.5h1M1428 831.5h1M40 832.5h5M51 832.5h2M60 832.5h2M101 832.5h1M654 832.5h1M838 832.5h1M912 832.5h1M939 832.5h1M955 832.5h1M1007 832.5h1M1041 832.5h2M1051 832.5h1M1065 832.5h9M1427 832.5h1M37 833.5h3M53 833.5h3M58 833.5h2M102 833.5h1M653 833.5h1M839 833.5h1M912 833.5h1M939 833.5h1M954 833.5h1M1008 833.5h1M1039 833.5h2M1052 833.5h1M1063 833.5h2M1074 833.5h1M1384 833.5h2M1426 833.5h1M35 834.5h2M56 834.5h2M102 834.5h1M651 834.5h2M839 834.5h1M911 834.5h1M940 834.5h1M954 834.5h1M1008 834.5h1M1038 834.5h1M1053 834.5h2M1061 834.5h2M1074 834.5h1M1381 834.5h3M1386 834.5h1M1401 834.5h4M1424 834.5h2M33 835.5h2M103 835.5h1M377 835.5h1M650 835.5h1M840 835.5h1M911 835.5h1M941 835.5h1M953 835.5h1M1009 835.5h1M1037 835.5h1M1055 835.5h1M1060 835.5h1M1075 835.5h1M1379 835.5h2M1387 835.5h1M1399 835.5h2M1405 835.5h6M1421 835.5h3M32 836.5h1M103 836.5h1M345 836.5h2M376 836.5h1M378 836.5h1M577 836.5h1M649 836.5h1M840 836.5h1M910 836.5h1M942 836.5h1M951 836.5h2M1010 836.5h2M1035 836.5h2M1056 836.5h1M1058 836.5h2M1075 836.5h1M1377 836.5h2M1388 836.5h1M1398 836.5h1M1411 836.5h4M1419 836.5h2M32 837.5h1M104 837.5h1M344 837.5h1M347 837.5h4M375 837.5h1M379 837.5h1M576 837.5h1M578 837.5h1M649 837.5h1M841 837.5h2M863 837.5h3M910 837.5h1M943 837.5h1M949 837.5h2M1012 837.5h1M1034 837.5h1M1057 837.5h1M1076 837.5h1M1377 837.5h1M1389 837.5h2M1397 837.5h1M1415 837.5h4M31 838.5h1M104 838.5h1M111 838.5h3M343 838.5h1M351 838.5h4M375 838.5h1M380 838.5h1M576 838.5h1M579 838.5h1M648 838.5h1M843 838.5h2M859 838.5h4M865 838.5h1M909 838.5h1M943 838.5h1M948 838.5h1M1013 838.5h2M1033 838.5h1M1076 838.5h1M1376 838.5h1M1391 838.5h1M1395 838.5h2M30 839.5h1M105 839.5h1M107 839.5h4M113 839.5h1M341 839.5h2M355 839.5h4M374 839.5h1M381 839.5h1M575 839.5h1M580 839.5h1M648 839.5h1M845 839.5h3M853 839.5h6M866 839.5h1M909 839.5h1M944 839.5h1M946 839.5h2M1015 839.5h2M1031 839.5h2M1077 839.5h1M1376 839.5h1M1392 839.5h1M1394 839.5h1M29 840.5h1M105 840.5h2M114 840.5h1M340 840.5h1M359 840.5h3M373 840.5h1M381 840.5h1M575 840.5h1M581 840.5h1M647 840.5h1M848 840.5h5M866 840.5h1M908 840.5h1M945 840.5h1M1017 840.5h2M1029 840.5h2M1077 840.5h1M1375 840.5h1M1393 840.5h1M29 841.5h1M114 841.5h1M339 841.5h1M362 841.5h2M372 841.5h1M382 841.5h1M574 841.5h1M581 841.5h1M647 841.5h1M866 841.5h1M908 841.5h1M1019 841.5h2M1028 841.5h1M1078 841.5h1M1375 841.5h1M28 842.5h1M115 842.5h1M338 842.5h1M364 842.5h1M371 842.5h1M383 842.5h1M574 842.5h1M582 842.5h1M646 842.5h1M867 842.5h1M907 842.5h1M1021 842.5h3M1026 842.5h2M1078 842.5h1M1374 842.5h1M17 843.5h2M27 843.5h1M115 843.5h1M321 843.5h2M336 843.5h2M365 843.5h2M371 843.5h1M384 843.5h1M573 843.5h1M583 843.5h1M608 843.5h2M646 843.5h1M867 843.5h1M907 843.5h1M1024 843.5h2M1079 843.5h1M1374 843.5h1M17 844.5h1M19 844.5h2M26 844.5h1M116 844.5h1M320 844.5h1M323 844.5h2M333 844.5h3M367 844.5h2M370 844.5h1M385 844.5h1M537 844.5h1M573 844.5h1M584 844.5h1M589 844.5h6M605 844.5h3M610 844.5h1M645 844.5h1M868 844.5h1M906 844.5h1M1079 844.5h1M1373 844.5h1M16 845.5h1M21 845.5h3M26 845.5h1M116 845.5h1M320 845.5h1M325 845.5h3M331 845.5h2M369 845.5h1M386 845.5h1M535 845.5h2M538 845.5h1M572 845.5h1M585 845.5h4M595 845.5h4M603 845.5h2M611 845.5h1M645 845.5h1M868 845.5h1M906 845.5h1M1080 845.5h1M1373 845.5h1M16 846.5h1M24 846.5h2M117 846.5h1M319 846.5h1M328 846.5h3M386 846.5h1M534 846.5h1M538 846.5h1M572 846.5h1M599 846.5h4M612 846.5h1M644 846.5h1M868 846.5h1M905 846.5h1M1080 846.5h1M1372 846.5h1M16 847.5h1M117 847.5h1M319 847.5h1M387 847.5h1M533 847.5h1M539 847.5h1M571 847.5h1M613 847.5h1M644 847.5h1M869 847.5h1M905 847.5h1M1081 847.5h1M1372 847.5h1M16 848.5h1M117 848.5h1M318 848.5h1M388 848.5h1M531 848.5h2M540 848.5h1M571 848.5h1M613 848.5h1M643 848.5h1M869 848.5h1M905 848.5h1M1082 848.5h2M1371 848.5h1M15 849.5h1M118 849.5h1M318 849.5h1M389 849.5h1M520 849.5h5M530 849.5h1M540 849.5h1M570 849.5h1M614 849.5h1M643 849.5h1M869 849.5h1M904 849.5h1M1084 849.5h1M1371 849.5h1M15 850.5h1M118 850.5h1M129 850.5h2M317 850.5h1M389 850.5h1M517 850.5h3M525 850.5h5M541 850.5h1M570 850.5h1M615 850.5h1M642 850.5h1M870 850.5h1M904 850.5h1M1085 850.5h2M1370 850.5h1M15 851.5h1M119 851.5h1M127 851.5h2M131 851.5h4M317 851.5h1M390 851.5h1M515 851.5h2M542 851.5h1M565 851.5h5M616 851.5h1M642 851.5h1M870 851.5h1M903 851.5h1M1087 851.5h2M1370 851.5h1M14 852.5h1M119 852.5h1M126 852.5h1M135 852.5h11M316 852.5h1M391 852.5h1M512 852.5h3M542 852.5h1M561 852.5h4M617 852.5h1M641 852.5h1M870 852.5h1M903 852.5h1M1089 852.5h9M1369 852.5h1M14 853.5h1M120 853.5h1M125 853.5h1M146 853.5h1M316 853.5h1M392 853.5h1M408 853.5h2M509 853.5h3M543 853.5h1M559 853.5h2M618 853.5h1M640 853.5h1M871 853.5h1M881 853.5h1M902 853.5h1M1097 853.5h1M1369 853.5h1M14 854.5h1M120 854.5h1M123 854.5h2M147 854.5h1M315 854.5h1M392 854.5h1M406 854.5h2M410 854.5h1M507 854.5h2M544 854.5h1M557 854.5h2M619 854.5h1M640 854.5h1M871 854.5h1M879 854.5h2M882 854.5h1M902 854.5h1M1098 854.5h1M1368 854.5h1M13 855.5h1M121 855.5h2M148 855.5h1M189 855.5h5M315 855.5h1M393 855.5h2M404 855.5h2M411 855.5h1M433 855.5h1M503 855.5h4M544 855.5h1M556 855.5h1M620 855.5h1M639 855.5h1M872 855.5h1M878 855.5h1M883 855.5h2M901 855.5h1M1098 855.5h1M1368 855.5h1M13 856.5h1M121 856.5h1M149 856.5h1M181 856.5h8M193 856.5h1M314 856.5h1M395 856.5h4M402 856.5h2M412 856.5h1M432 856.5h1M434 856.5h1M499 856.5h4M545 856.5h4M554 856.5h2M621 856.5h1M638 856.5h1M872 856.5h1M877 856.5h1M885 856.5h1M901 856.5h1M1099 856.5h1M1368 856.5h1M13 857.5h1M150 857.5h1M176 857.5h5M194 857.5h1M314 857.5h1M399 857.5h3M413 857.5h1M432 857.5h1M435 857.5h1M496 857.5h3M549 857.5h5M622 857.5h1M638 857.5h1M872 857.5h1M875 857.5h2M886 857.5h1M900 857.5h1M1099 857.5h1M1368 857.5h1M13 858.5h1M151 858.5h1M174 858.5h2M194 858.5h1M313 858.5h1M413 858.5h1M431 858.5h1M436 858.5h1M493 858.5h3M623 858.5h1M637 858.5h1M873 858.5h2M887 858.5h2M900 858.5h1M1099 858.5h1M1367 858.5h1M12 859.5h1M152 859.5h1M172 859.5h2M195 859.5h1M312 859.5h1M414 859.5h1M430 859.5h1M437 859.5h1M491 859.5h2M624 859.5h1M636 859.5h1M873 859.5h1M889 859.5h1M899 859.5h1M1100 859.5h1M1367 859.5h1M1 860.5h1M12 860.5h1M153 860.5h1M170 860.5h2M195 860.5h1M312 860.5h1M415 860.5h1M429 860.5h1M437 860.5h1M489 860.5h2M625 860.5h1M636 860.5h1M890 860.5h2M899 860.5h1M1100 860.5h1M1367 860.5h1M2 861.5h1M12 861.5h1M154 861.5h2M168 861.5h2M196 861.5h1M311 861.5h1M416 861.5h1M429 861.5h1M438 861.5h1M488 861.5h1M626 861.5h2M635 861.5h1M892 861.5h2M898 861.5h1M1101 861.5h1M1367 861.5h1M3 862.5h1M11 862.5h1M156 862.5h2M165 862.5h3M196 862.5h1M289 862.5h1M311 862.5h1M417 862.5h1M428 862.5h1M439 862.5h1M487 862.5h1M628 862.5h2M634 862.5h1M894 862.5h2M898 862.5h1M1101 862.5h1M1121 862.5h9M1366 862.5h1M3 863.5h1M11 863.5h1M158 863.5h2M163 863.5h2M197 863.5h1M288 863.5h1M290 863.5h1M310 863.5h1M418 863.5h2M427 863.5h1M440 863.5h1M485 863.5h2M630 863.5h2M634 863.5h1M896 863.5h2M1101 863.5h1M1119 863.5h2M1129 863.5h1M1366 863.5h1M4 864.5h1M11 864.5h1M160 864.5h3M197 864.5h1M287 864.5h1M291 864.5h1M310 864.5h1M420 864.5h2M426 864.5h1M441 864.5h2M484 864.5h1M632 864.5h2M1102 864.5h1M1117 864.5h2M1130 864.5h1M1366 864.5h1M5 865.5h1M10 865.5h1M197 865.5h1M286 865.5h1M292 865.5h1M309 865.5h1M422 865.5h2M426 865.5h1M443 865.5h4M483 865.5h1M1102 865.5h1M1116 865.5h1M1130 865.5h1M1366 865.5h1M6 866.5h1M10 866.5h1M198 866.5h1M285 866.5h1M293 866.5h1M309 866.5h1M424 866.5h2M447 866.5h3M482 866.5h1M1103 866.5h1M1114 866.5h2M1131 866.5h1M1365 866.5h1M7 867.5h1M10 867.5h1M198 867.5h1M285 867.5h1M294 867.5h1M308 867.5h1M450 867.5h2M479 867.5h3M1103 867.5h1M1113 867.5h1M1131 867.5h1M1365 867.5h1M7 868.5h1M10 868.5h1M199 868.5h1M271 868.5h4M284 868.5h1M295 868.5h1M308 868.5h1M452 868.5h1M475 868.5h4M1103 868.5h1M1111 868.5h2M1132 868.5h1M1365 868.5h1M8 869.5h2M199 869.5h1M267 869.5h4M275 869.5h2M283 869.5h1M296 869.5h1M307 869.5h1M453 869.5h2M473 869.5h2M1104 869.5h1M1109 869.5h2M1132 869.5h1M1364 869.5h1M9 870.5h1M200 870.5h1M249 870.5h1M265 870.5h2M277 870.5h3M282 870.5h1M297 870.5h2M307 870.5h1M455 870.5h2M471 870.5h2M1104 870.5h1M1108 870.5h1M1133 870.5h1M1364 870.5h1M200 871.5h1M249 871.5h3M263 871.5h2M280 871.5h2M299 871.5h2M306 871.5h1M457 871.5h2M469 871.5h2M1105 871.5h3M1133 871.5h1M1364 871.5h1M201 872.5h1M248 872.5h1M252 872.5h1M261 872.5h2M301 872.5h3M306 872.5h1M459 872.5h2M468 872.5h1M1105 872.5h1M1134 872.5h1M1364 872.5h1M201 873.5h1M248 873.5h1M253 873.5h2M260 873.5h1M304 873.5h2M461 873.5h3M466 873.5h2M1134 873.5h1M1363 873.5h1M202 874.5h2M247 874.5h1M255 874.5h2M258 874.5h2M464 874.5h2M1135 874.5h1M1177 874.5h10M1363 874.5h1M204 875.5h2M247 875.5h1M257 875.5h1M1135 875.5h1M1176 875.5h1M1187 875.5h4M1321 875.5h1M1363 875.5h1M206 876.5h2M246 876.5h1M1136 876.5h1M1176 876.5h1M1191 876.5h4M1297 876.5h2M1320 876.5h1M1322 876.5h1M1363 876.5h1M208 877.5h3M246 877.5h1M1136 877.5h1M1175 877.5h1M1195 877.5h4M1296 877.5h1M1299 877.5h4M1320 877.5h1M1323 877.5h1M1362 877.5h1M211 878.5h2M245 878.5h1M1137 878.5h1M1175 878.5h1M1199 878.5h4M1215 878.5h11M1296 878.5h1M1303 878.5h3M1319 878.5h1M1323 878.5h1M1362 878.5h1M213 879.5h3M245 879.5h1M1137 879.5h4M1174 879.5h1M1203 879.5h4M1211 879.5h4M1226 879.5h1M1295 879.5h1M1306 879.5h1M1318 879.5h1M1324 879.5h1M1362 879.5h1M216 880.5h3M245 880.5h1M1141 880.5h13M1173 880.5h1M1207 880.5h4M1226 880.5h1M1295 880.5h1M1307 880.5h1M1317 880.5h1M1325 880.5h1M1362 880.5h1M219 881.5h2M244 881.5h1M1154 881.5h2M1173 881.5h1M1227 881.5h1M1294 881.5h1M1308 881.5h1M1317 881.5h1M1326 881.5h1M1361 881.5h1M221 882.5h3M244 882.5h1M1156 882.5h2M1172 882.5h1M1228 882.5h1M1294 882.5h1M1309 882.5h1M1316 882.5h1M1327 882.5h1M1361 882.5h1M224 883.5h2M243 883.5h1M1158 883.5h2M1171 883.5h1M1229 883.5h1M1293 883.5h1M1310 883.5h1M1315 883.5h1M1327 883.5h1M1361 883.5h1M226 884.5h2M243 884.5h1M1160 884.5h3M1171 884.5h1M1229 884.5h1M1293 884.5h1M1311 884.5h1M1314 884.5h1M1328 884.5h1M1360 884.5h1M228 885.5h2M242 885.5h1M1163 885.5h2M1170 885.5h1M1230 885.5h1M1292 885.5h1M1312 885.5h1M1314 885.5h1M1329 885.5h2M1360 885.5h1M230 886.5h2M242 886.5h1M1165 886.5h3M1170 886.5h1M1231 886.5h1M1240 886.5h2M1292 886.5h1M1313 886.5h1M1331 886.5h2M1359 886.5h1M232 887.5h5M241 887.5h1M1168 887.5h2M1232 887.5h1M1237 887.5h3M1242 887.5h1M1291 887.5h1M1333 887.5h3M1359 887.5h1M237 888.5h5M1232 888.5h1M1235 888.5h2M1243 888.5h1M1291 888.5h1M1336 888.5h2M1358 888.5h1M1233 889.5h2M1243 889.5h1M1290 889.5h1M1338 889.5h1M1358 889.5h1M1244 890.5h1M1290 890.5h1M1339 890.5h2M1357 890.5h1M1245 891.5h1M1289 891.5h1M1341 891.5h1M1357 891.5h1M1246 892.5h1M1288 892.5h1M1342 892.5h1M1356 892.5h1M1247 893.5h1M1288 893.5h1M1343 893.5h2M1356 893.5h1M1247 894.5h1M1287 894.5h1M1345 894.5h1M1355 894.5h1M1248 895.5h1M1287 895.5h1M1346 895.5h2M1355 895.5h1M1249 896.5h2M1286 896.5h1M1348 896.5h2M1354 896.5h1M1251 897.5h4M1261 897.5h8M1285 897.5h1M1350 897.5h2M1354 897.5h1M1255 898.5h6M1269 898.5h5M1285 898.5h1M1352 898.5h2M1274 899.5h1M1284 899.5h1M1275 900.5h2M1283 900.5h1M1277 901.5h1M1283 901.5h1M1278 902.5h1M1282 902.5h1M1279 903.5h2M1282 903.5h1M1281 904.5h1" fill="none" stroke="#1e90ff" stroke-width="1"/>
<rect x="0" y="26" width="1661" height="1" fill="#000"/>
<rect x="0" y="579" width="1661" height="1" fill="#000"/>
<rect x="0" y="580" width="1661" height="1" fill="#f0f0f0"/>
<rect x="0" y="581" width="1661" height="1" fill="#000"/>
<rect x="0" y="751" width="1661" height="1" fill="#000"/>
<rect x="0" y="752" width="1661" height="1" fill="#f0f0f0"/>
<rect x="0" y="753" width="1661" height="1" fill="#000"/>
<rect x="0" y="927" width="1661" height="1" fill="#000"/>
<rect x="0" y="26" width="1" height="902" fill="#000"/>
<rect x="1660" y="26" width="1" height="902" fill="#000"/>
<rect x="1661" y="48" width="2" height="1" fill="#000"/>
<rect x="1661" y="81" width="2" height="1" fill="#000"/>
<rect x="1661" y="114" width="2" height="1" fill="#000"/>
<rect x="1661" y="147" width="2" height="1" fill="#000"/>
<rect x="1661" y="180" width="2" height="1" fill="#000"/>
<rect x="1661" y="213" width="2" height="1" fill="#000"/>
<rect x="1661" y="246" width="2" height="1" fill="#000"/>
<rect x="1661" y="279" width="2" height="1" fill="#000"/>
<rect x="1661" y="312" width="2" height="1" fill="#000"/>
<rect x="1661" y="345" width="2" height="1" fill="#000"/>
<rect x="1661" y="378" width="2" height="1" fill="#000"/>
<rect x="1661" y="411" width="2" height="1" fill="#000"/>
<rect x="1661" y="444" width="2" height="1" fill="#000"/>
<rect x="1661" y="477" width="2" height="1" fill="#000"/>
<rect x="1661" y="510" width="2" height="1" fill="#000"/>
<rect x="1661" y="543" width="2" height="1" fill="#000"/>
<rect x="1661" y="576" width="2" height="1" fill="#000"/>
<rect x="1661" y="583" width="1" height="1" fill="#000"/>
<rect x="1661" y="626" width="1" height="1" fill="#000"/>
<rect x="1" y="928" width="1" height="3" fill="#000"/>
<rect x="65" y="928" width="1" height="3" fill="#000"/>
<rect x="129" y="928" width="1" height="3" fill="#000"/>
<rect x="193" y="928" width="1" height="3" fill="#000"/>
<rect x="257" y="928" width="1" height="3" fill="#000"/>
<rect x="321" y="928" width="1" height="3" fill="#000"/>
<rect x="385" y="928" width="1" height="3" fill="#000"/>
<rect x="449" y="928" width="1" height="3" fill="#000"/>
<rect x="513" y="928" width="1" height="3" fill="#000"/>
<rect x="577" y="928" width="1" height="3" fill="#000"/>
<rect x="641" y="928" width="1" height="3" fill="#000"/>
<rect x="705" y="928" width="1" height="3" fill="#000"/>
<rect x="769" y="928" width="1" height="3" fill="#000"/>
<rect x="833" y="928" width="1" height="3" fill="#000"/>
<rect x="897" y="928" width="1" height="3" fill="#000"/>
<rect x="961" y="928" width="1" height="3" fill="#000"/>
<rect x="1025" y="928" width="1" height="3" fill="#000"/>
<rect x="1089" y="928" width="1" height="3" fill="#000"/>
<rect x="1153" y="928" width="1" height="3" fill="#000"/>
<rect x="1217" y="928" width="1" height="3" fill="#000"/>
<rect x="1281" y="928" width="1" height="3" fill="#000"/>
<rect x="1345" y="928" width="1" height="3" fill="#000"/>
<rect x="1409" y="928" width="1" height="3" fill="#000"/>
<polygon points="1438,27 1449,27 1443.5,32.5" fill="#c0c0c0"/>
</g>
<g font-family="Liberation Sans, sans-serif" font-size="9px" fill="#000">
<text transform="translate(1666.5,52.0) scale(1,1.09)" >25818.0</text>
<text transform="translate(1666.5,85.0) scale(1,1.09)" >25325.0</text>
<text transform="translate(1666.5,118.0) scale(1,1.09)" >24846.5</text>
<text transform="translate(1666.5,151.0) scale(1,1.09)" >24368.0</text>
<text transform="translate(1666.5,184.0) scale(1,1.09)" >23875.0</text>
<text transform="translate(1666.5,217.0) scale(1,1.09)" >23396.5</text>
<text transform="translate(1666.5,250.0) scale(1,1.09)" >22918.0</text>
<text transform="translate(1666.5,283.0) scale(1,1.09)" >22439.5</text>
<text transform="translate(1666.5,316.0) scale(1,1.09)" >21946.5</text>
<text transform="translate(1666.5,349.0) scale(1,1.09)" >21468.0</text>
<text transform="translate(1666.5,382.0) scale(1,1.09)" >20975.0</text>
<text transform="translate(1666.5,415.0) scale(1,1.09)" >20496.5</text>
<text transform="translate(1666.5,448.0) scale(1,1.09)" >20018.0</text>
<text transform="translate(1666.5,481.0) scale(1,1.09)" >19525.0</text>
<text transform="translate(1666.5,514.0) scale(1,1.09)" >19046.5</text>
<text transform="translate(1666.5,547.0) scale(1,1.09)" >18568.0</text>
<text transform="translate(1666.5,580.0) scale(1,1.09)" >18089.5</text>
</g>
<g shape-rendering="crispEdges">
<rect x="1662" y="246" width="41" height="11" fill="#ff0000"/>
<rect x="1662" y="275" width="41" height="11" fill="#ff0000"/>
<rect x="1662" y="307" width="41" height="11" fill="#000"/>
<rect x="1662" y="321" width="41" height="11" fill="#32cd32"/>
<rect x="1662" y="352" width="41" height="11" fill="#0000ff"/>
<rect x="1662" y="387" width="41" height="11" fill="#0000ff"/>
</g>
<g font-family="Liberation Sans, sans-serif" font-size="9px" fill="#fff">
<text transform="translate(1666.5,254.9) scale(1,1.09)" >22824.2</text>
<text transform="translate(1666.5,283.9) scale(1,1.09)" >22400.5</text>
<text transform="translate(1666.5,315.9) scale(1,1.09)" >21932.0</text>
<text transform="translate(1666.5,329.9) scale(1,1.09)" >21728.3</text>
<text transform="translate(1666.5,360.9) scale(1,1.09)" >21275.3</text>
<text transform="translate(1666.5,395.9) scale(1,1.09)" >20763.9</text>
</g>
<g font-family="Liberation Sans, sans-serif" font-size="9px" fill="#000">
<text transform="translate(1663.6,592.0) scale(1,1.09)" >389.44</text>
<text transform="translate(1663.6,629.9) scale(1,1.09)" >0.00</text>
<text transform="translate(1663.6,747.5) scale(1,1.09)" >-1099.78</text>
<text transform="translate(1663.6,764.2) scale(1,1.09)" >100</text>
<text transform="translate(1663.6,793.1) scale(1,1.09)" >80</text>
<text transform="translate(1663.6,844.1) scale(1,1.09)" >50</text>
<text transform="translate(1663.6,905.0) scale(1,1.09)" >15</text>
<text transform="translate(1663.6,924.0) scale(1,1.09)" >0</text>
<text transform="translate(1.0,940.4) scale(1,1.09)" textLength="47.2" lengthAdjust="spacingAndGlyphs">9 Nov 2021</text>
<text transform="translate(65.0,940.4) scale(1,1.09)" textLength="56.0" lengthAdjust="spacingAndGlyphs">15 Nov 05:00</text>
<text transform="translate(129.0,940.4) scale(1,1.09)" textLength="56.0" lengthAdjust="spacingAndGlyphs">19 Nov 05:00</text>
<text transform="translate(193.0,940.4) scale(1,1.09)" textLength="56.0" lengthAdjust="spacingAndGlyphs">25 Nov 05:00</text>
<text transform="translate(257.0,940.4) scale(1,1.09)" textLength="48.5" lengthAdjust="spacingAndGlyphs">1 Dec 05:00</text>
<text transform="translate(321.0,940.4) scale(1,1.09)" textLength="48.5" lengthAdjust="spacingAndGlyphs">7 Dec 05:00</text>
<text transform="translate(385.0,940.4) scale(1,1.09)" textLength="53.5" lengthAdjust="spacingAndGlyphs">13 Dec 05:00</text>
<text transform="translate(449.0,940.4) scale(1,1.09)" textLength="53.5" lengthAdjust="spacingAndGlyphs">17 Dec 05:00</text>
<text transform="translate(513.0,940.4) scale(1,1.09)" textLength="53.5" lengthAdjust="spacingAndGlyphs">23 Dec 05:00</text>
<text transform="translate(577.0,940.4) scale(1,1.09)" textLength="53.5" lengthAdjust="spacingAndGlyphs">31 Dec 01:15</text>
<text transform="translate(641.0,940.4) scale(1,1.09)" textLength="46.8" lengthAdjust="spacingAndGlyphs">6 Jan 05:00</text>
<text transform="translate(705.0,940.4) scale(1,1.09)" textLength="51.8" lengthAdjust="spacingAndGlyphs">12 Jan 05:00</text>
<text transform="translate(769.0,940.4) scale(1,1.09)" textLength="51.8" lengthAdjust="spacingAndGlyphs">18 Jan 05:00</text>
<text transform="translate(833.0,940.4) scale(1,1.09)" textLength="51.8" lengthAdjust="spacingAndGlyphs">24 Jan 05:00</text>
<text transform="translate(897.0,940.4) scale(1,1.09)" textLength="51.8" lengthAdjust="spacingAndGlyphs">28 Jan 05:00</text>
<text transform="translate(961.0,940.4) scale(1,1.09)" textLength="48.3" lengthAdjust="spacingAndGlyphs">9 Feb 01:15</text>
<text transform="translate(1025.0,940.4) scale(1,1.09)" textLength="53.3" lengthAdjust="spacingAndGlyphs">15 Feb 01:15</text>
<text transform="translate(1089.0,940.4) scale(1,1.09)" textLength="53.3" lengthAdjust="spacingAndGlyphs">21 Feb 01:15</text>
<text transform="translate(1153.0,940.4) scale(1,1.09)" textLength="53.3" lengthAdjust="spacingAndGlyphs">25 Feb 01:15</text>
<text transform="translate(1217.0,940.4) scale(1,1.09)" textLength="48.2" lengthAdjust="spacingAndGlyphs">3 Mar 01:15</text>
<text transform="translate(1281.0,940.4) scale(1,1.09)" textLength="48.2" lengthAdjust="spacingAndGlyphs">9 Mar 01:15</text>
<text transform="translate(1345.0,940.4) scale(1,1.09)" textLength="53.2" lengthAdjust="spacingAndGlyphs">15 Mar 01:15</text>
<text transform="translate(1409.0,940.4) scale(1,1.09)" textLength="53.2" lengthAdjust="spacingAndGlyphs">21 Mar 01:15</text>
<text transform="translate(16.2,38.2) scale(1,1.09)" word-spacing="1px" textLength="188" lengthAdjust="spacingAndGlyphs">HK50-,H4&#160; 21421.0 21958.0 21381.0 21932.0</text>
<polygon points="4,37 11,37 7.5,33" fill="#000"/>
<text transform="translate(5.4,594.2) scale(1,1.09)" textLength="128.6" lengthAdjust="spacingAndGlyphs">MACD(12,26,9) -55.85 -430.87</text>
<text transform="translate(5.2,766.2) scale(1,1.09)" textLength="67.5" lengthAdjust="spacingAndGlyphs">RSI(14) 58.1109</text>
</g>
<rect x="906.5" y="90.5" width="61" height="18" fill="#fff" stroke="#f00" stroke-width="1" shape-rendering="crispEdges"/>
<text x="908.2" y="105.6" font-family="Liberation Sans, sans-serif" font-size="16px" fill="#f00">25058.8</text>
<rect x="968" y="99" width="10" height="1" fill="#f00" shape-rendering="crispEdges"/>
<rect x="394.5" y="255.5" width="61" height="18" fill="#fff" stroke="#f00" stroke-width="1" shape-rendering="crispEdges"/>
<text x="396.2" y="270.6" font-family="Liberation Sans, sans-serif" font-size="16px" fill="#f00">22655.0</text>
<rect x="456" y="264" width="10" height="1" fill="#f00" shape-rendering="crispEdges"/>
<rect x="1204.5" y="240.5" width="60" height="18" fill="#fff" stroke="#f00" stroke-width="1" shape-rendering="crispEdges"/>
<text x="1206.2" y="255.6" font-family="Liberation Sans, sans-serif" font-size="16px" fill="#f00">22866.2</text>
<rect x="1193" y="249" width="11" height="1" fill="#f00" shape-rendering="crispEdges"/>
<rect x="1338.5" y="303.5" width="61" height="18" fill="#fff" stroke="#f00" stroke-width="1" shape-rendering="crispEdges"/>
<text x="1340.2" y="318.6" font-family="Liberation Sans, sans-serif" font-size="16px" fill="#f00">21947.5</text>
<rect x="1400" y="312" width="7" height="1" fill="#f00" shape-rendering="crispEdges"/>
<rect x="1282.5" y="557.5" width="61" height="18" fill="#fff" stroke="#f00" stroke-width="1" shape-rendering="crispEdges"/>
<text x="1284.2" y="572.6" font-family="Liberation Sans, sans-serif" font-size="16px" fill="#f00">18236.0</text>
<rect x="1344" y="566" width="10" height="1" fill="#f00" shape-rendering="crispEdges"/>
<rect x="1140.5" y="315.5" width="73" height="24" fill="#fff" stroke="#f00" stroke-width="1" shape-rendering="crispEdges"/>
<text transform="translate(1142.2,336) scale(1,1.09)" font-family="Liberation Sans, sans-serif" font-size="19.4px" fill="#f00">21728.3</text>
<line x1="1370.6" y1="555.3" x2="1460.5" y2="294.0" stroke="#ed1c24" stroke-width="3.6"/>
<polygon points="1465.8,278.6 1468.6,297.9 1451.8,292.1" fill="#ed1c24"/>
<line x1="1361.5" y1="761.0" x2="1430.0" y2="647.7" stroke="#ed1c24" stroke-width="3.4"/>
<polygon points="1438.3,634.0 1437.2,653.2 1421.8,643.9" fill="#ed1c24"/>
<line x1="1373.4" y1="847.8" x2="1423.7" y2="828.1" stroke="#ed1c24" stroke-width="3.4"/>
<polygon points="1438.6,822.3 1425.9,836.6 1419.6,820.4" fill="#ed1c24"/>
</svg>
<div id="panel">
<div style="position:absolute;left:56px;top:46px;width:115px;height:24px;background:#fff;"></div>
<div style="position:absolute;left:113px;top:70px;width:2px;height:33px;background:#fff;"></div>
<div style="position:absolute;left:4px;top:46px;width:52px;height:24px;background:linear-gradient(#5a5aff,#3232da);box-shadow:inset 1px 1px 0 #1c1cb4,inset -1px 0 0 #1c1cb4;"></div>
<div style="position:absolute;left:171px;top:46px;width:52px;height:24px;background:linear-gradient(#5a5aff,#3232da);box-shadow:inset 1px 1px 0 #1c1cb4,inset -1px 0 0 #1c1cb4;"></div>
<div style="position:absolute;left:4px;top:70px;width:109px;height:33px;background:linear-gradient(#2e2ed6,#0404a4);box-shadow:inset 1px 0 0 #0c0ca8,inset -1px -1px 0 #0c0ca8;"></div>
<div style="position:absolute;left:115px;top:70px;width:108px;height:33px;background:linear-gradient(#2e2ed6,#0404a4);box-shadow:inset 1px 0 0 #0c0ca8,inset -1px -1px 0 #0c0ca8;"></div>
<div style="position:absolute;left:56px;top:70px;width:57px;height:1px;background:#1414b0;"></div>
<div style="position:absolute;left:115px;top:70px;width:56px;height:1px;background:#1414b0;"></div>
<div style="position:absolute;left:8px;top:69px;width:44px;height:1px;background:#1212a8;"></div>
<div style="position:absolute;left:8px;top:70px;width:44px;height:1px;background:#a4a4f4;"></div>
<div style="position:absolute;left:175px;top:69px;width:44px;height:1px;background:#1212a8;"></div>
<div style="position:absolute;left:175px;top:70px;width:44px;height:1px;background:#a4a4f4;"></div>
<div style="position:absolute;left:58px;top:46px;width:109px;height:20px;border:1px solid #a8a8a8;background:#fff;"></div>
<div style="position:absolute;left:60px;top:48px;width:18px;height:18px;background:linear-gradient(#f2f2f2 0%,#e8e8e8 45%,#d4d4d4 50%,#cecece 100%);"></div>
<div style="position:absolute;left:79px;top:47px;width:1px;height:20px;background:#b4b4b4;"></div>
<div style="position:absolute;left:149px;top:48px;width:18px;height:18px;background:linear-gradient(#f2f2f2 0%,#e8e8e8 45%,#d4d4d4 50%,#cecece 100%);"></div>
<div style="position:absolute;left:147px;top:47px;width:1px;height:20px;background:#b4b4b4;"></div>
<div style="position:absolute;left:66px;top:55px;width:0;height:0;border-left:3px solid transparent;border-right:3px solid transparent;border-top:4px solid #5a6ac8;"></div>
<div style="position:absolute;left:154px;top:55px;width:0;height:0;border-left:3px solid transparent;border-right:3px solid transparent;border-bottom:4px solid #5a6ac8;"></div>
<div style="position:absolute;left:100px;top:50px;width:44px;text-align:right;font-size:12px;line-height:14px;color:#000;">1.00</div>
<div class="bt" style="left:16.3px;top:51px;font-size:12px;line-height:14px;letter-spacing:-1.05px;">SELL</div>
<div class="bt" style="left:184.5px;top:51px;font-size:12px;line-height:14px;letter-spacing:-0.7px;">BUY</div>
<div class="bt" style="left:20.3px;top:87.1px;font-size:12px;line-height:13px;font-weight:bold;letter-spacing:0.22px;">21930</div>
<div class="bt" style="left:130.6px;top:87.1px;font-size:12px;line-height:13px;font-weight:bold;letter-spacing:0.22px;">21944</div>
<div style="position:absolute;left:59.4px;top:93.8px;width:4.3px;height:4.3px;background:#fff;border-radius:1.5px;"></div>
<div style="position:absolute;left:170.5px;top:93.8px;width:4.3px;height:4.3px;background:#fff;border-radius:1.5px;"></div>
<div class="bt" style="left:66.4px;top:69.5px;font-size:32.5px;line-height:34px;transform:scaleX(0.86);transform-origin:0 0;">5</div>
<div class="bt" style="left:177.5px;top:69.5px;font-size:32.5px;line-height:34px;transform:scaleX(0.86);transform-origin:0 0;">5</div>
</div>

<svg width="1707" height="26" viewBox="0 0 1707 26">
<rect x="-2" y="2.6" width="10.4" height="12" fill="#fdfdfd" stroke="#b4a888" stroke-width="1"/>
<path d="M0 5.5h4M5.2 4.2l1.2 1.2" stroke="#666" stroke-width="0.9"/>
<line x1="9" y1="14.8" x2="12.8" y2="18.4" stroke="#c8980c" stroke-width="3.2" stroke-linecap="butt"/>
<circle cx="4.1" cy="11.4" r="5.3" fill="#d8ecfa" fill-opacity="0.92" stroke="#4a90e0" stroke-width="1.2"/>
<rect x="2.4" y="8" width="3" height="5" fill="#a8bccc"/>
<rect x="21" y="0" width="1" height="20" fill="#a0a0a0" shape-rendering="crispEdges"/>
<defs><linearGradient id="gp" x1="0" y1="0" x2="1" y2="1"><stop offset="0" stop-color="#7cff8c"/><stop offset="0.5" stop-color="#1ee038"/><stop offset="1" stop-color="#10b020"/></linearGradient></defs>
<path d="M32.6 2.6H39.4L42.4 5.6V14.6Q42.4 15.4 41.6 15.4H32.6Q31.6 15.4 31.6 14.4V3.6Q31.6 2.6 32.6 2.6Z" fill="#fdfdfd" stroke="#6e6e6e" stroke-width="1.1"/>
<path d="M39.2 2.8V5.8H42.2" fill="none" stroke="#6e6e6e" stroke-width="0.9"/>
<rect x="33.2" y="4.2" width="2.6" height="1.5" fill="#808080"/>
<path d="M33.2 8.5h6.2M33.2 10.5h4.4M33.2 12.6h2.4" stroke="#6a6a6a" stroke-width="0.9"/>
<path d="M39.5 8.5h3v4h4v3h-4v4h-3v-4h-4v-3h4Z" fill="url(#gp)" stroke="#078a07" stroke-width="1"/>
<text x="50" y="13.4" font-family='"Liberation Sans", "Noto Sans CJK SC", sans-serif' font-size="12px" fill="#000">新订单</text>
<defs><linearGradient id="bk" x1="0" y1="0" x2="1" y2="1"><stop offset="0" stop-color="#f8e060"/><stop offset="0.55" stop-color="#e8b818"/><stop offset="1" stop-color="#c08a10"/></linearGradient></defs>
<polygon points="97.8,11.6 105.8,16.6 113.6,9.8 114,12 105.8,18.8 97.6,13.6" fill="#94640a"/>
<polygon points="103,3.2 113.6,9.8 105.8,16.6 98,11.6" fill="url(#bk)" stroke="#b07c10" stroke-width="0.9"/>
<path d="M99.2 12.4L105.8 17L112.8 10.8" fill="none" stroke="#e8c860" stroke-width="0.7"/>
<rect x="128.5" y="2.5" width="10" height="10" fill="#2a9af0" stroke="#1a6ad0" stroke-width="1"/>
<rect x="131.5" y="5" width="6" height="5" fill="#dff0ff"/>
<path d="M129.5 17.4h9.5a3 3 0 0 0 0.4-5.9a2.6 2.6 0 0 0-4-1.3a3.3 3.3 0 0 0-5.4 1.6a2.9 2.9 0 0 0-0.5 5.6Z" fill="#eef3fb" stroke="#5070b8" stroke-width="1.1"/>
<circle cx="162" cy="9.8" r="7.6" fill="#eef2f6" stroke="#c4cedc" stroke-width="0.8"/>
<path d="M162 9.8L169.6 9.8A7.6 7.6 0 0 1 162 17.4Z" fill="#5cb85c"/>
<path d="M162 9.8L165.8 3.2A7.6 7.6 0 0 1 169.6 9.8Z" fill="#b4d8ac"/>
<path d="M160.1 15.1A5.6 5.6 0 0 1 160.1 4.5" fill="none" stroke="#3a6cd0" stroke-width="1.2"/>
<path d="M160.8 13A3.4 3.4 0 0 1 160.8 6.6" fill="none" stroke="#3a6cd0" stroke-width="1.1"/>
<path d="M164 4.6A5.6 5.6 0 0 1 167 7.4" fill="none" stroke="#7a9ad8" stroke-width="1"/>
<circle cx="162" cy="9.4" r="1.9" fill="#2050c8"/>
<path d="M162.3 10V17.2" stroke="#18a018" stroke-width="1.5"/>
<path d="M183 8.5L188.4 17.8L196 8.5Z" fill="#f0d040" stroke="#c8a020" stroke-width="0.8"/>
<ellipse cx="189.2" cy="7.2" rx="7.8" ry="2.9" fill="#4a9ad8" stroke="#2a78b8" stroke-width="0.8"/>
<ellipse cx="189" cy="5" rx="4" ry="3" fill="#5aaae0"/>
<circle cx="193.4" cy="13.8" r="4.2" fill="#e02010" stroke="#b01808" stroke-width="0.6"/>
<rect x="191.6" y="12" width="3.6" height="3.6" fill="#fff"/>
<text x="202" y="13.4" font-family='"Liberation Sans", "Noto Sans CJK SC", sans-serif' font-size="12px" fill="#000">自动交易</text>
<rect x="257" y="0" width="1" height="22" fill="#a0a0a0" shape-rendering="crispEdges"/><rect x="258" y="0" width="1" height="22" fill="#fff" shape-rendering="crispEdges"/>
<rect x="261" y="0" width="3" height="1" fill="#a8a8a8" shape-rendering="crispEdges"/>
<rect x="261" y="2" width="3" height="1" fill="#a8a8a8" shape-rendering="crispEdges"/>
<rect x="261" y="4" width="3" height="1" fill="#a8a8a8" shape-rendering="crispEdges"/>
<rect x="261" y="6" width="3" height="1" fill="#a8a8a8" shape-rendering="crispEdges"/>
<rect x="261" y="8" width="3" height="1" fill="#a8a8a8" shape-rendering="crispEdges"/>
<rect x="261" y="10" width="3" height="1" fill="#a8a8a8" shape-rendering="crispEdges"/>
<rect x="261" y="12" width="3" height="1" fill="#a8a8a8" shape-rendering="crispEdges"/>
<rect x="261" y="14" width="3" height="1" fill="#a8a8a8" shape-rendering="crispEdges"/>
<rect x="261" y="16" width="3" height="1" fill="#a8a8a8" shape-rendering="crispEdges"/>
<rect x="261" y="18" width="3" height="1" fill="#a8a8a8" shape-rendering="crispEdges"/>
<g stroke="#555" stroke-width="1.2" fill="none"><path d="M275.4 4.5V17.5M272.8 15.5H286.4"/></g>
<polygon points="275.4,3.6 273.4,6.6 277.4,6.6" fill="#555"/>
<polygon points="287.4,15.5 284.6,13.5 284.6,17.5" fill="#555"/>
<path d="M281.6 5.3V13.4M281.6 6.7H284.2M279 12.7H281.6" stroke="#109010" stroke-width="1.3" fill="none"/>
<rect x="295" y="0" width="1" height="20" fill="#a0a0a0" shape-rendering="crispEdges"/>
<rect x="296" y="0" width="24" height="20" fill="#f8f8f8"/>
<g stroke="#555" stroke-width="1.2" fill="none"><path d="M303.5 4.5V17.5M300.9 15.5H314.5"/></g>
<polygon points="303.5,3.6 301.5,6.6 305.5,6.6" fill="#555"/>
<polygon points="315.5,15.5 312.7,13.5 312.7,17.5" fill="#555"/>
<path d="M309.5 2.2V13.8" stroke="#109010" stroke-width="1.2"/>
<rect x="307.4" y="4.6" width="4.2" height="7" fill="#38e038" stroke="#109010" stroke-width="1"/>
<g stroke="#555" stroke-width="1.2" fill="none"><path d="M331.6 4.5V17.5M329.0 15.5H342.6"/></g>
<polygon points="331.6,3.6 329.6,6.6 333.6,6.6" fill="#555"/>
<polygon points="343.6,15.5 340.8,13.5 340.8,17.5" fill="#555"/>
<path d="M330.4 12.6C333 11 334.5 7 336.4 7.2C338 7.4 339.5 10 341.8 11" stroke="#259025" stroke-width="1.3" fill="none"/>
<rect x="352" y="0" width="1" height="20" fill="#a0a0a0" shape-rendering="crispEdges"/>
<line x1="370.8" y1="12.4" x2="376.0" y2="17.2" stroke="#d8b020" stroke-width="3" stroke-linecap="round"/>
<line x1="371.0" y1="12.4" x2="376.2" y2="17.2" stroke="#f8e070" stroke-width="1" stroke-linecap="round"/>
<circle cx="367.0" cy="8.1" r="5.4" fill="#d4ecfc" stroke="#3a7ad0" stroke-width="1.2"/>
<path d="M364.0 8.1H370.0" stroke="#3a80b8" stroke-width="1.8"/>
<path d="M367.0 5.1V11.1" stroke="#3a80b8" stroke-width="1.8"/>
<line x1="398.9" y1="12.4" x2="404.1" y2="17.2" stroke="#d8b020" stroke-width="3" stroke-linecap="round"/>
<line x1="399.1" y1="12.4" x2="404.3" y2="17.2" stroke="#f8e070" stroke-width="1" stroke-linecap="round"/>
<circle cx="395.1" cy="8.1" r="5.4" fill="#d4ecfc" stroke="#3a7ad0" stroke-width="1.2"/>
<path d="M392.1 8.1H398.1" stroke="#3a80b8" stroke-width="1.8"/>
<rect x="417.0" y="2.0" width="7.8" height="7.8" fill="#3a9a1a"/>
<rect x="418.2" y="5.2" width="5.4" height="3.6" fill="#fff" fill-opacity="0.92"/>
<rect x="419.2" y="6.4" width="3.4" height="0.9" fill="#3a9a1a" fill-opacity="0.6"/>
<rect x="425.2" y="2.0" width="7.8" height="7.8" fill="#1a48d0"/>
<rect x="426.4" y="5.2" width="5.4" height="3.6" fill="#fff" fill-opacity="0.92"/>
<rect x="427.4" y="6.4" width="3.4" height="0.9" fill="#1a48d0" fill-opacity="0.6"/>
<rect x="417.0" y="10.2" width="7.8" height="7.8" fill="#1a48d0"/>
<rect x="418.2" y="13.4" width="5.4" height="3.6" fill="#fff" fill-opacity="0.92"/>
<rect x="419.2" y="14.6" width="3.4" height="0.9" fill="#1a48d0" fill-opacity="0.6"/>
<rect x="425.2" y="10.2" width="7.8" height="7.8" fill="#3a9a1a"/>
<rect x="426.4" y="13.4" width="5.4" height="3.6" fill="#fff" fill-opacity="0.92"/>
<rect x="427.4" y="14.6" width="3.4" height="0.9" fill="#3a9a1a" fill-opacity="0.6"/>
<rect x="442" y="0" width="1" height="20" fill="#a0a0a0" shape-rendering="crispEdges"/>
<rect x="447" y="0" width="1" height="20" fill="#a0a0a0" shape-rendering="crispEdges"/>
<rect x="448" y="0" width="23" height="20" fill="#f8f8f8"/>
<g stroke="#555" stroke-width="1.2" fill="none"><path d="M455.5 4.5V17.5M452.9 15.5H466.5"/></g>
<polygon points="455.5,3.6 453.5,6.6 457.5,6.6" fill="#555"/>
<polygon points="467.5,15.5 464.7,13.5 464.7,17.5" fill="#555"/>
<polygon points="460,6.3 460,13 464,9.6" fill="#20b020" stroke="#109010" stroke-width="0.6"/>
<rect x="475" y="0" width="1" height="20" fill="#a0a0a0" shape-rendering="crispEdges"/>
<rect x="476" y="0" width="24" height="20" fill="#f8f8f8"/>
<g stroke="#555" stroke-width="1.2" fill="none"><path d="M483.5 4.5V17.5M480.9 15.5H494.5"/></g>
<polygon points="483.5,3.6 481.5,6.6 485.5,6.6" fill="#555"/>
<polygon points="495.5,15.5 492.7,13.5 492.7,17.5" fill="#555"/>
<path d="M489.5 4.2V13.8" stroke="#1a6aa0" stroke-width="1.3"/>
<path d="M490.5 9.5H495.2" stroke="#e05010" stroke-width="1.2"/><polygon points="490.3,9.5 493.2,7.3 493.2,11.7" fill="#e05010"/>
<rect x="504" y="0" width="1" height="20" fill="#a0a0a0" shape-rendering="crispEdges"/>
<path d="M515.2 2.6H522L525 5.6V14.2Q525 15 524.2 15H515.2Q514.2 15 514.2 14V3.6Q514.2 2.6 515.2 2.6Z" fill="#fdfdfd" stroke="#8a8a8a" stroke-width="1"/>
<path d="M521.8 2.8V5.8H524.8" fill="none" stroke="#8a8a8a" stroke-width="0.9"/>
<path d="M518.8 5.2c-1.6 0-1.6 1-1.6 2.4v4.2c0 1 0 2.2 1.4 2.2" stroke="#4a4030" stroke-width="1" fill="none"/><path d="M516.4 9.2h2.6" stroke="#4a4030" stroke-width="0.9"/>
<path d="M522.5 8.5h3v4h4v3h-4v4h-3v-4h-4v-3h4Z" fill="url(#gp)" stroke="#078a07" stroke-width="1"/>
<polygon points="535.6,9 541.2,9 538.4,12.3" fill="#000"/>
<circle cx="560" cy="9.8" r="6.6" fill="#fafcff" stroke="#1a68d8" stroke-width="2.2"/>
<circle cx="560" cy="9.8" r="7.7" fill="none" stroke="#0a48a8" stroke-width="0.5"/>
<path d="M559.6 5.6V10H563" stroke="#333" stroke-width="1.1" fill="none"/>
<polygon points="574.6,9 580.2,9 577.4,12.3" fill="#000"/>
<rect x="591.7" y="3.5" width="15" height="13" fill="#fff" stroke="#2a6ac0" stroke-width="1.2"/>
<rect x="592.2" y="4" width="14" height="2" fill="#5a9ae8"/>
<path d="M592 10.6H606.4" stroke="#2a6ac0" stroke-width="1"/>
<path d="M593.4 9.2h2l1.6-1.2h1.8l1.4 0.8h1.8l1.4-1.2h1.2" stroke="#b02810" stroke-width="1.1" fill="none"/>
<path d="M594.2 14.6h2l1.2-0.9 1.6 0.9 2.4-2.2 1.6 0.8 1.2 1.4" stroke="#109010" stroke-width="1.1" fill="none"/>
<polygon points="613.6,9 619.2,9 616.4,12.3" fill="#000"/>
<rect x="625" y="0" width="1" height="22" fill="#a0a0a0" shape-rendering="crispEdges"/><rect x="626" y="0" width="1" height="22" fill="#fff" shape-rendering="crispEdges"/>
<rect x="629" y="0" width="3" height="1" fill="#a8a8a8" shape-rendering="crispEdges"/>
<rect x="629" y="2" width="3" height="1" fill="#a8a8a8" shape-rendering="crispEdges"/>
<rect x="629" y="4" width="3" height="1" fill="#a8a8a8" shape-rendering="crispEdges"/>
<rect x="629" y="6" width="3" height="1" fill="#a8a8a8" shape-rendering="crispEdges"/>
<rect x="629" y="8" width="3" height="1" fill="#a8a8a8" shape-rendering="crispEdges"/>
<rect x="629" y="10" width="3" height="1" fill="#a8a8a8" shape-rendering="crispEdges"/>
<rect x="629" y="12" width="3" height="1" fill="#a8a8a8" shape-rendering="crispEdges"/>
<rect x="629" y="14" width="3" height="1" fill="#a8a8a8" shape-rendering="crispEdges"/>
<rect x="629" y="16" width="3" height="1" fill="#a8a8a8" shape-rendering="crispEdges"/>
<rect x="629" y="18" width="3" height="1" fill="#a8a8a8" shape-rendering="crispEdges"/>
<rect x="635" y="0" width="1" height="20" fill="#a0a0a0" shape-rendering="crispEdges"/>
<rect x="636" y="0" width="24" height="20" fill="#f8f8f8"/>
<polygon points="643.1,3 643.1,13.6 645.6,11.4 648,16.9 649.9,16.1 647.5,10.7 651,10.5" fill="#555"/>
<path d="M668 10.5H674M677 10.5H683M675.5 3.2V9M675.5 12V17.9" stroke="#555" stroke-width="1.1" fill="none"/>
<rect x="675" y="10" width="1" height="1" fill="#555"/>
<rect x="692" y="0" width="1" height="20" fill="#a0a0a0" shape-rendering="crispEdges"/>
<path d="M709.5 3.9V16.9" stroke="#555" stroke-width="1.3"/>
<path d="M732 10.5H744" stroke="#555" stroke-width="1.3"/>
<path d="M760 16.9L772 4.8" stroke="#555" stroke-width="1.2"/>
<path d="M786 12L795.5 4.5M787 16L799 6.5M790 17L799.5 9.5" stroke="#555" stroke-width="0.9" fill="none"/>
<path d="M788.5 10.5L789.5 15M791.5 8L792.5 13.5M794.5 5.5L796 11.5M797 3L798 9" stroke="#555" stroke-width="0.8" fill="none"/>
<text x="796.8" y="18.8" font-family="Liberation Sans, sans-serif" font-size="6.5px" font-weight="bold" fill="#333">E</text>
<path d="M815 3.4H828.0" stroke="#555" stroke-width="1" stroke-dasharray="1 1"/>
<path d="M815 6.5H828.0" stroke="#555" stroke-width="1" stroke-dasharray="1 1"/>
<path d="M815 10.5H828.0" stroke="#555" stroke-width="1" stroke-dasharray="1 1"/>
<path d="M815 14.6H823.6" stroke="#555" stroke-width="1" stroke-dasharray="1 1"/>
<text x="824.6" y="18.9" font-family="Liberation Sans, sans-serif" font-size="6.5px" font-weight="bold" fill="#333">F</text>
<text x="845.2" y="14.9" font-family="Liberation Sans, sans-serif" font-size="12.4px" fill="#555" stroke="#555" stroke-width="0.5">A</text>
<rect x="872.4" y="4.4" width="11" height="12.2" fill="none" stroke="#555" stroke-width="1" stroke-dasharray="1 1"/>
<text x="873.5" y="14.9" font-family="Liberation Sans, sans-serif" font-size="11px" font-weight="bold" fill="#555">T</text>
<polygon points="902.4,3.6 905.6,6.6 902.4,8.6 899.2,6.6" fill="#555"/>
<polygon points="909.6,17 912.8,14 909.6,12 906.4,14" fill="#555"/>
<path d="M901.3 12l2 1.6 4-5.6" stroke="#555" stroke-width="1.1" fill="none"/>
<polygon points="919.7,9 925.3,9 922.5,12.3" fill="#000"/>
<rect x="931" y="0" width="1" height="22" fill="#a0a0a0" shape-rendering="crispEdges"/><rect x="932" y="0" width="1" height="22" fill="#fff" shape-rendering="crispEdges"/>
<rect x="935" y="0" width="3" height="1" fill="#a8a8a8" shape-rendering="crispEdges"/>
<rect x="935" y="2" width="3" height="1" fill="#a8a8a8" shape-rendering="crispEdges"/>
<rect x="935" y="4" width="3" height="1" fill="#a8a8a8" shape-rendering="crispEdges"/>
<rect x="935" y="6" width="3" height="1" fill="#a8a8a8" shape-rendering="crispEdges"/>
<rect x="935" y="8" width="3" height="1" fill="#a8a8a8" shape-rendering="crispEdges"/>
<rect x="935" y="10" width="3" height="1" fill="#a8a8a8" shape-rendering="crispEdges"/>
<rect x="935" y="12" width="3" height="1" fill="#a8a8a8" shape-rendering="crispEdges"/>
<rect x="935" y="14" width="3" height="1" fill="#a8a8a8" shape-rendering="crispEdges"/>
<rect x="935" y="16" width="3" height="1" fill="#a8a8a8" shape-rendering="crispEdges"/>
<rect x="935" y="18" width="3" height="1" fill="#a8a8a8" shape-rendering="crispEdges"/>
<rect x="1081" y="0" width="1" height="20" fill="#a0a0a0" shape-rendering="crispEdges"/>
<rect x="1082" y="0" width="24" height="20" fill="#f8f8f8"/>
<text x="946.5" y="14" font-family="Liberation Sans, sans-serif" font-size="9.4px" fill="#484848">M1</text>
<text x="974.7" y="14" font-family="Liberation Sans, sans-serif" font-size="9.4px" fill="#484848">M5</text>
<text x="1000.4" y="14" font-family="Liberation Sans, sans-serif" font-size="9.4px" fill="#484848">M15</text>
<text x="1028.4" y="14" font-family="Liberation Sans, sans-serif" font-size="9.4px" fill="#484848">M30</text>
<text x="1059.6" y="14" font-family="Liberation Sans, sans-serif" font-size="9.4px" fill="#484848">H1</text>
<text x="1086.7" y="14" font-family="Liberation Sans, sans-serif" font-size="9.4px" fill="#484848">H4</text>
<text x="1115.7" y="14" font-family="Liberation Sans, sans-serif" font-size="9.4px" fill="#484848">D1</text>
<text x="1143.0" y="14" font-family="Liberation Sans, sans-serif" font-size="9.4px" fill="#484848">W1</text>
<text x="1169.7" y="14" font-family="Liberation Sans, sans-serif" font-size="9.4px" fill="#484848">MN</text>
<rect x="1192" y="0" width="1" height="20" fill="#a0a0a0" shape-rendering="crispEdges"/>
<circle cx="1662.6" cy="7.6" r="3.8" fill="#f8f8ff" stroke="#2a5ad8" stroke-width="1.3"/>
<path d="M1659.8 10.4L1655 15" stroke="#2050c8" stroke-width="2.2"/>
<path d="M1679.6 12.2a5.4 4.6 0 1 1 3.6 4.4l-1 2-0.6-2.4a5 4.6 0 0 1-2-4Z" fill="#e6e8f2" stroke="#b4b4b8" stroke-width="0.8"/>
<defs><linearGradient id="bg" x1="0" y1="0" x2="0" y2="1"><stop offset="0" stop-color="#ea5a3c"/><stop offset="1" stop-color="#d6280c"/></linearGradient></defs>
<circle cx="1693.4" cy="7.8" r="8.3" fill="url(#bg)"/>
<text x="1693.3" y="12.2" text-anchor="middle" font-family="Liberation Sans, sans-serif" font-size="12.6px" font-weight="bold" fill="#fff">1</text>
</svg>
</body></html>
